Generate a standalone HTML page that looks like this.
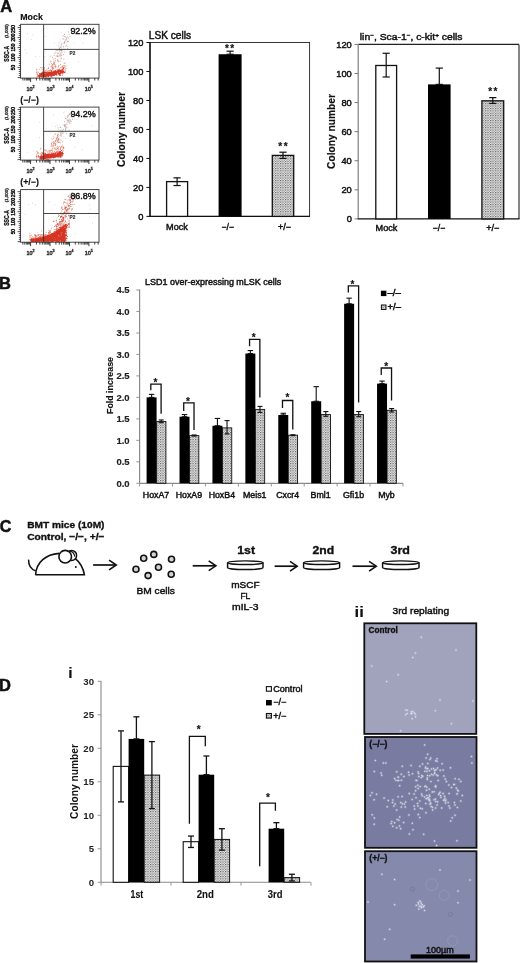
<!DOCTYPE html>
<html><head><meta charset="utf-8"><title>Figure</title>
<style>html,body{margin:0;padding:0;background:#fff;}svg{display:block;}text{font-family:"Liberation Sans", Arial, sans-serif;}</style>
</head><body>
<svg width="520" height="963" viewBox="0 0 520 963">
<rect width="520" height="963" fill="#fff"/>
<text x="0.30" y="11.60" font-size="16.5" font-weight="bold" text-anchor="start" fill="#111" stroke="#111" stroke-width="0.5">A</text>
<text x="-1.00" y="288.80" font-size="16.5" font-weight="bold" text-anchor="start" fill="#111" stroke="#111" stroke-width="0.5">B</text>
<text x="-0.20" y="532.00" font-size="16.0" font-weight="bold" text-anchor="start" fill="#111" stroke="#111" stroke-width="0.5">C</text>
<text x="-1.00" y="690.50" font-size="16.5" font-weight="bold" text-anchor="start" fill="#111" stroke="#111" stroke-width="0.5">D</text>
<text x="20.30" y="19.70" font-size="8.8" font-weight="bold" text-anchor="start" fill="#111" stroke="#111" stroke-width="0.15">Mock</text>
<path d="M45.4 36.4h0M68.4 32.7h0M60.3 46.4h0M26.7 53.0h0M25.2 49.6h0M27.5 33.5h0M52.5 68.0h0M31.3 39.7h0M66.8 73.7h0M63.2 47.9h0M91.3 31.5h0M83.0 42.9h0M32.8 34.8h0M44.3 67.5h0M35.3 56.5h0M67.6 46.7h0M61.2 32.2h0M26.8 38.9h0M70.5 49.3h0M44.7 56.7h0M54.5 43.3h0M78.5 62.0h0M39.8 56.2h0M59.6 70.3h0M74.0 42.8h0M53.2 63.1h0M61.6 49.1h0M61.5 47.2h0M63.6 43.8h0M58.7 46.1h0M58.1 45.7h0M64.5 42.1h0M66.0 42.8h0M61.4 44.6h0M59.2 50.9h0M63.0 36.7h0M60.2 54.0h0M49.0 62.9h0M60.5 44.7h0M55.3 51.9h0M56.0 52.9h0M54.1 63.9h0M65.0 41.0h0M64.0 43.1h0M67.4 36.3h0M62.1 42.9h0M55.0 62.5h0M57.7 58.8h0M59.5 49.0h0M60.1 41.5h0M69.0 38.9h0M57.1 52.7h0M59.8 39.9h0M52.9 64.3h0M54.6 60.0h0M57.0 50.4h0M53.9 67.3h0M59.3 48.0h0" stroke="#cbc6c6" stroke-width="0.9" stroke-linecap="round" stroke-opacity="0.9" fill="none"/>
<path d="M68.5 37.9h0M58.8 56.7h0M58.0 55.4h0M57.3 56.6h0M64.3 42.4h0M60.6 47.5h0M60.4 49.8h0M57.9 50.4h0M61.8 44.0h0M57.4 53.8h0M60.6 56.0h0M67.2 41.0h0M58.6 60.8h0M54.9 53.2h0M69.1 34.6h0M61.2 51.0h0M59.9 49.9h0M61.7 46.0h0M65.5 39.9h0M50.7 61.9h0M59.7 55.7h0M64.8 52.1h0M62.0 52.9h0M56.2 50.5h0M61.1 54.7h0M70.0 36.6h0M66.6 45.2h0M59.7 49.3h0M67.4 48.5h0M64.6 43.2h0M61.3 58.0h0M63.3 54.7h0M64.5 34.5h0M67.0 37.9h0M58.3 61.7h0M64.6 36.7h0M66.7 39.7h0M50.2 56.2h0M59.4 50.9h0M57.5 56.4h0M68.3 31.8h0M59.8 49.5h0M65.8 46.3h0M63.1 35.7h0M61.0 50.5h0M56.7 55.9h0M64.5 49.4h0M66.4 38.2h0M59.4 48.2h0M60.0 54.0h0M60.8 52.8h0M59.3 49.1h0M67.7 41.7h0M61.3 55.6h0M63.9 39.1h0M63.5 46.6h0M61.5 50.6h0M59.0 42.9h0M65.6 36.9h0M64.9 41.4h0M53.4 59.2h0M62.1 50.6h0M61.0 49.6h0M62.8 38.8h0M51.5 65.8h0M68.4 41.4h0" stroke="#a88070" stroke-width="0.95" stroke-linecap="round" stroke-opacity="0.8" fill="none"/>
<path d="M52.4 57.3h0M52.6 67.5h0M52.8 64.7h0M54.4 63.7h0M52.6 67.7h0M54.6 64.7h0M54.0 61.6h0M55.1 66.3h0M58.5 53.2h0M53.4 63.8h0M52.5 65.9h0M52.9 66.2h0M55.6 64.9h0M51.4 63.7h0M52.9 64.5h0M52.3 68.8h0M54.3 62.6h0M61.2 58.8h0M53.8 62.9h0M57.5 60.8h0M51.6 67.8h0M55.5 60.8h0M55.5 66.1h0M49.2 64.3h0M55.2 58.6h0M51.0 61.4h0M60.1 61.2h0M56.2 66.8h0M54.2 55.4h0M55.0 66.5h0M57.4 60.0h0M39.6 76.1h0M63.0 65.9h0M44.7 69.9h0M66.0 68.6h0M53.7 68.0h0M44.3 73.6h0M37.4 76.8h0M44.6 74.3h0M64.1 67.3h0M51.3 72.0h0M41.7 68.0h0M62.5 72.0h0M60.4 64.5h0M64.2 63.4h0M52.5 69.7h0M58.0 67.9h0M49.5 70.6h0M44.6 68.2h0M37.5 74.3h0M50.2 69.8h0M46.3 70.1h0M65.3 70.8h0M43.8 70.7h0M52.7 68.1h0M47.8 71.6h0M42.2 73.4h0M63.2 65.8h0M63.2 67.5h0M65.9 65.7h0M41.8 72.6h0M38.7 72.3h0M43.2 72.8h0M43.8 67.3h0M58.5 66.4h0M48.4 68.3h0M47.3 72.5h0M46.1 73.1h0M65.0 67.8h0M39.8 69.3h0M61.9 67.7h0M42.5 71.8h0M48.0 72.7h0M49.4 75.0h0M62.2 66.4h0M36.7 77.1h0M62.9 68.3h0M50.2 70.3h0M47.7 70.9h0M63.8 69.5h0M65.2 62.9h0M43.5 72.9h0M51.7 70.9h0M56.5 72.6h0M55.4 67.8h0M58.9 65.5h0M37.2 74.0h0M59.5 68.9h0M55.4 74.6h0M45.1 72.8h0M55.1 70.6h0M57.0 69.6h0M51.7 70.6h0M53.5 68.4h0M54.0 70.6h0M36.3 72.6h0M64.8 69.7h0M55.3 71.3h0M43.0 70.1h0M43.4 75.5h0M45.2 70.6h0M36.7 69.8h0M48.6 70.8h0M43.7 69.1h0M42.8 67.3h0M37.0 72.0h0M56.5 71.1h0M41.9 73.3h0M51.1 66.4h0M42.2 74.2h0M60.6 67.7h0M42.9 72.7h0M44.8 75.5h0M64.6 65.7h0M42.7 72.1h0M48.5 67.8h0M40.4 67.5h0M47.8 72.4h0M37.6 75.4h0M62.9 68.5h0M62.5 66.8h0M63.9 59.1h0M45.9 73.5h0M58.4 73.7h0M37.0 72.1h0M47.2 69.0h0M46.0 71.4h0M44.4 71.8h0M46.5 72.4h0M64.9 66.8h0M42.2 69.4h0M60.7 71.6h0M49.0 73.2h0M47.2 71.9h0M63.6 68.2h0M62.9 69.7h0M36.9 69.6h0M59.0 70.8h0M37.2 74.1h0M63.6 67.6h0" stroke="#e0604a" stroke-width="0.9" stroke-linecap="round" stroke-opacity="0.85" fill="none"/>
<path d="M45.4 72.2h0M54.3 75.3h0M46.9 74.8h0M58.9 71.4h0M63.2 71.6h0M52.8 72.7h0M48.7 75.7h0M51.8 73.4h0M59.0 69.9h0M57.8 71.8h0M46.1 76.6h0M45.4 75.2h0M51.8 77.0h0M61.7 71.7h0M41.9 76.6h0M56.2 73.2h0M48.5 73.1h0M58.4 70.8h0M42.4 74.7h0M52.3 75.2h0M44.0 76.3h0M43.6 74.2h0M51.9 76.1h0M55.7 72.9h0M51.5 71.5h0M62.5 71.9h0M54.3 72.7h0M60.1 72.4h0M58.8 72.1h0M53.5 72.8h0M48.6 75.1h0M44.4 74.1h0M44.8 75.2h0M56.2 73.9h0M44.4 73.7h0M41.2 76.6h0M52.5 73.2h0M42.8 74.3h0M46.1 74.4h0M51.2 70.6h0M48.5 76.4h0M45.8 75.0h0M49.9 72.9h0M60.6 72.2h0M38.3 75.9h0M62.7 72.5h0M47.8 74.5h0M44.3 74.9h0M40.3 76.2h0M63.3 72.1h0M63.5 71.2h0M41.0 75.3h0M60.5 70.3h0M43.1 74.6h0M50.0 72.1h0M43.7 76.6h0M51.6 74.2h0M44.9 72.4h0M38.8 75.5h0M40.2 75.5h0M52.9 73.0h0M45.7 75.8h0M49.2 73.1h0M51.1 74.2h0M51.4 76.0h0M58.0 72.7h0M51.2 74.3h0M50.5 74.8h0M52.9 74.0h0M40.9 73.7h0M52.7 74.1h0M48.9 74.1h0M61.7 71.7h0M60.2 75.5h0M53.0 72.7h0M43.6 72.5h0M43.5 74.8h0M60.0 73.3h0M62.2 72.6h0M51.6 74.1h0M56.4 72.3h0M59.4 73.3h0M53.9 75.4h0M51.4 72.5h0M42.7 75.5h0M49.0 73.3h0M63.1 70.9h0M57.6 72.9h0M59.0 73.0h0M43.9 72.5h0M53.3 72.5h0M39.5 76.4h0M53.5 74.0h0M61.8 72.4h0M55.4 73.0h0M48.5 75.2h0M43.7 74.5h0M43.5 74.4h0M42.9 75.1h0M43.7 76.4h0M60.9 70.6h0M46.8 74.9h0M52.4 75.1h0M51.3 73.0h0M45.4 74.8h0M51.8 74.3h0M40.5 75.8h0M53.2 73.2h0M43.2 74.5h0M55.2 72.3h0M46.7 75.2h0M61.5 69.8h0M39.9 74.3h0M50.6 72.6h0M45.1 75.7h0M57.1 71.0h0M44.8 74.7h0M58.1 72.3h0M55.6 72.8h0M61.6 71.9h0M44.8 72.0h0M56.9 75.1h0M54.4 71.4h0M62.0 72.2h0M57.0 71.6h0M56.5 72.3h0M44.1 74.9h0M61.9 72.0h0M42.3 75.1h0M42.8 75.6h0M55.5 71.5h0M58.4 73.1h0M48.7 72.2h0M62.8 72.6h0M62.2 71.4h0M44.3 75.5h0M60.6 70.3h0M59.2 71.5h0M42.6 76.8h0M43.8 76.6h0M39.5 77.3h0M56.4 73.7h0M61.5 71.7h0M55.3 73.3h0M50.0 72.9h0M56.1 72.7h0M61.8 73.0h0M43.8 75.3h0M58.1 72.5h0M49.8 74.3h0M42.9 75.6h0M59.7 75.3h0M46.4 76.8h0M52.3 74.8h0M41.3 73.9h0M58.2 71.6h0M47.7 76.2h0M41.3 75.7h0M50.3 75.9h0M43.9 75.7h0M57.9 70.6h0M47.5 75.3h0M59.4 70.4h0M42.0 76.5h0M54.1 74.3h0M61.2 72.7h0M46.1 72.5h0M43.2 76.3h0M46.7 74.7h0M58.9 74.3h0M58.8 71.0h0M43.7 74.9h0M44.0 75.5h0M49.3 72.3h0M50.9 72.8h0M41.9 74.9h0M58.2 71.7h0M53.3 72.1h0M44.4 72.6h0M57.9 70.1h0M55.4 71.9h0M46.6 74.4h0M49.7 72.1h0M54.7 74.5h0M49.8 73.2h0M56.3 72.5h0M55.5 71.7h0M51.5 73.7h0M53.3 75.4h0M62.1 71.6h0M52.1 73.1h0M50.8 72.1h0M50.4 75.7h0M43.9 74.1h0M59.7 74.8h0M48.5 74.8h0M49.8 74.2h0M49.3 73.1h0M45.8 77.0h0M61.9 71.6h0M58.6 72.9h0M42.5 73.3h0M53.8 73.7h0M45.4 74.8h0M55.6 70.8h0M50.4 75.6h0M42.5 74.5h0M60.2 73.3h0M44.9 75.5h0M39.0 75.3h0M44.8 76.5h0M48.9 72.9h0M49.5 73.1h0M41.2 73.4h0M59.6 74.1h0M55.0 73.1h0M62.5 70.8h0M41.9 76.5h0M58.1 73.1h0M61.7 71.0h0M60.2 70.6h0M56.8 71.3h0M60.4 73.9h0M52.2 72.3h0M60.5 71.7h0M45.5 76.2h0M40.0 76.2h0M50.3 74.1h0M62.1 71.8h0M49.6 73.4h0M59.4 73.2h0M64.0 72.1h0M56.0 73.2h0M56.7 72.3h0M62.6 71.5h0M62.7 72.0h0M53.8 75.5h0M47.2 74.9h0M58.5 73.8h0M48.1 73.7h0M46.7 73.6h0M51.5 75.3h0M62.6 69.7h0M47.0 75.7h0M52.7 71.8h0M39.7 73.5h0M53.3 73.8h0M53.4 71.5h0M60.9 70.8h0M54.3 71.6h0M56.3 74.7h0M50.5 73.4h0M44.9 75.6h0M61.4 70.8h0M59.8 70.5h0M45.2 76.4h0M45.9 75.7h0M63.3 72.0h0M54.1 72.6h0M63.3 71.3h0M50.2 75.2h0M44.4 75.4h0M39.0 75.7h0M64.5 72.6h0M43.5 75.6h0M45.0 74.3h0M40.4 74.0h0M60.3 71.5h0M54.5 71.8h0M62.3 75.0h0M57.1 72.7h0M55.4 72.5h0M46.7 74.0h0M60.2 72.1h0M47.4 74.0h0M56.8 74.6h0M47.4 73.2h0M48.4 75.9h0M62.8 69.9h0M48.3 75.7h0M56.9 71.7h0M55.6 72.6h0M53.7 74.6h0M60.3 73.4h0M55.2 71.6h0M46.7 74.8h0M48.3 73.2h0M62.6 72.2h0M60.0 70.8h0M46.7 72.9h0M56.7 72.1h0M39.8 75.4h0M44.0 72.3h0M43.9 74.1h0M50.8 74.9h0M58.0 71.1h0M41.7 73.7h0M43.3 74.1h0M60.2 71.9h0M53.9 74.1h0M43.3 74.3h0M52.3 74.5h0M45.4 76.3h0M49.2 75.4h0M59.3 73.7h0M47.5 74.6h0M41.4 75.7h0M50.6 73.6h0M56.7 74.2h0M59.0 69.3h0M45.9 75.1h0M43.7 75.6h0M53.5 72.3h0M62.9 71.3h0M53.6 73.8h0M62.9 73.2h0M56.2 72.3h0M48.4 74.7h0M63.7 71.3h0M62.8 70.1h0M40.5 74.0h0M55.4 73.0h0M42.7 72.5h0M55.6 74.6h0M58.5 73.1h0M46.1 75.9h0M43.2 76.2h0M57.2 72.8h0M45.7 75.6h0M46.0 73.9h0M61.8 72.8h0M42.8 74.5h0M54.0 73.6h0M58.5 72.7h0M42.6 76.0h0M56.4 72.6h0M60.7 73.3h0M47.8 75.8h0M47.3 74.3h0M65.1 72.1h0M55.9 74.4h0M46.1 75.7h0M50.9 73.7h0M62.7 72.2h0M62.6 72.3h0M46.5 74.8h0M58.9 72.9h0M39.5 74.8h0M42.0 76.8h0M44.1 75.0h0M43.7 73.3h0M44.2 75.5h0M53.6 73.4h0M43.2 74.1h0M58.8 71.9h0M40.6 74.7h0M58.4 73.2h0M48.3 72.3h0M53.1 73.8h0M51.4 73.1h0M44.0 74.2h0M42.3 76.9h0M38.3 76.3h0M52.8 75.0h0M59.9 71.3h0M55.8 74.4h0M41.9 73.4h0M50.4 73.9h0M54.5 73.6h0M44.7 75.7h0M45.3 74.7h0M41.2 75.0h0M38.6 75.4h0M52.0 73.1h0M60.7 71.6h0M41.1 75.9h0M46.6 75.7h0M41.1 74.5h0M41.5 74.8h0M44.0 72.6h0M47.4 75.8h0M50.6 75.9h0M58.1 73.3h0M45.3 76.5h0M60.4 70.8h0M61.1 72.4h0M63.5 71.0h0M49.0 73.4h0M53.0 74.1h0M52.1 73.8h0M63.6 68.4h0M55.4 70.5h0M62.2 72.1h0M45.4 74.1h0M53.5 72.6h0M44.4 75.0h0M62.6 72.7h0M56.0 74.1h0M62.3 71.6h0M50.2 73.9h0M42.6 76.4h0M49.0 75.2h0M39.7 75.4h0" stroke="#d42a18" stroke-width="1.15" stroke-linecap="round" stroke-opacity="0.95" fill="none"/>
<rect x="20.60" y="24.30" width="78.40" height="53.80" fill="none" stroke="#333" stroke-width="0.9"/>
<line x1="43.60" y1="24.30" x2="43.60" y2="78.10" stroke="#333" stroke-width="0.9"/>
<line x1="43.60" y1="49.40" x2="99.00" y2="49.40" stroke="#333" stroke-width="0.9"/>
<text x="95.80" y="33.90" font-size="9.0" font-weight="normal" text-anchor="end" fill="#111" stroke="#111" stroke-width="0.4" textLength="25.40" lengthAdjust="spacingAndGlyphs">92.2%</text>
<text x="69.60" y="54.80" font-size="6.0" font-weight="bold" text-anchor="start" fill="#333" stroke="#333" stroke-width="0.15" textLength="5.80" lengthAdjust="spacingAndGlyphs">P2</text>
<line x1="17.60" y1="77.60" x2="20.60" y2="77.60" stroke="#111" stroke-width="0.75"/>
<line x1="18.80" y1="75.60" x2="20.60" y2="75.60" stroke="#111" stroke-width="0.75"/>
<line x1="18.80" y1="73.60" x2="20.60" y2="73.60" stroke="#111" stroke-width="0.75"/>
<line x1="18.80" y1="71.60" x2="20.60" y2="71.60" stroke="#111" stroke-width="0.75"/>
<line x1="18.80" y1="69.60" x2="20.60" y2="69.60" stroke="#111" stroke-width="0.75"/>
<line x1="17.60" y1="67.60" x2="20.60" y2="67.60" stroke="#111" stroke-width="0.75"/>
<line x1="18.80" y1="65.60" x2="20.60" y2="65.60" stroke="#111" stroke-width="0.75"/>
<line x1="18.80" y1="63.60" x2="20.60" y2="63.60" stroke="#111" stroke-width="0.75"/>
<line x1="18.80" y1="61.60" x2="20.60" y2="61.60" stroke="#111" stroke-width="0.75"/>
<line x1="18.80" y1="59.60" x2="20.60" y2="59.60" stroke="#111" stroke-width="0.75"/>
<line x1="17.60" y1="57.60" x2="20.60" y2="57.60" stroke="#111" stroke-width="0.75"/>
<line x1="18.80" y1="55.60" x2="20.60" y2="55.60" stroke="#111" stroke-width="0.75"/>
<line x1="18.80" y1="53.60" x2="20.60" y2="53.60" stroke="#111" stroke-width="0.75"/>
<line x1="18.80" y1="51.60" x2="20.60" y2="51.60" stroke="#111" stroke-width="0.75"/>
<line x1="18.80" y1="49.60" x2="20.60" y2="49.60" stroke="#111" stroke-width="0.75"/>
<line x1="17.60" y1="47.60" x2="20.60" y2="47.60" stroke="#111" stroke-width="0.75"/>
<line x1="18.80" y1="45.60" x2="20.60" y2="45.60" stroke="#111" stroke-width="0.75"/>
<line x1="18.80" y1="43.60" x2="20.60" y2="43.60" stroke="#111" stroke-width="0.75"/>
<line x1="18.80" y1="41.60" x2="20.60" y2="41.60" stroke="#111" stroke-width="0.75"/>
<line x1="18.80" y1="39.60" x2="20.60" y2="39.60" stroke="#111" stroke-width="0.75"/>
<line x1="17.60" y1="37.60" x2="20.60" y2="37.60" stroke="#111" stroke-width="0.75"/>
<line x1="18.80" y1="35.60" x2="20.60" y2="35.60" stroke="#111" stroke-width="0.75"/>
<line x1="18.80" y1="33.60" x2="20.60" y2="33.60" stroke="#111" stroke-width="0.75"/>
<line x1="18.80" y1="31.60" x2="20.60" y2="31.60" stroke="#111" stroke-width="0.75"/>
<line x1="18.80" y1="29.60" x2="20.60" y2="29.60" stroke="#111" stroke-width="0.75"/>
<line x1="17.60" y1="27.60" x2="20.60" y2="27.60" stroke="#111" stroke-width="0.75"/>
<line x1="18.80" y1="25.60" x2="20.60" y2="25.60" stroke="#111" stroke-width="0.75"/>
<text x="15.50" y="67.60" font-size="4.8" font-weight="normal" text-anchor="middle" fill="#111" stroke="#111" stroke-width="0.4" transform="rotate(-90 15.50 67.60)">50</text>
<text x="15.50" y="57.60" font-size="4.8" font-weight="normal" text-anchor="middle" fill="#111" stroke="#111" stroke-width="0.4" transform="rotate(-90 15.50 57.60)">100</text>
<text x="15.50" y="47.60" font-size="4.8" font-weight="normal" text-anchor="middle" fill="#111" stroke="#111" stroke-width="0.4" transform="rotate(-90 15.50 47.60)">150</text>
<text x="15.50" y="37.60" font-size="4.8" font-weight="normal" text-anchor="middle" fill="#111" stroke="#111" stroke-width="0.4" transform="rotate(-90 15.50 37.60)">200</text>
<text x="15.50" y="29.10" font-size="4.8" font-weight="normal" text-anchor="middle" fill="#111" stroke="#111" stroke-width="0.4" transform="rotate(-90 15.50 29.10)">250</text>
<text x="8.70" y="61.70" font-size="6.6" font-weight="bold" text-anchor="start" fill="#111" stroke="#111" stroke-width="0.3" textLength="15.80" lengthAdjust="spacingAndGlyphs" transform="rotate(-90 8.70 61.70)">SSC-A</text>
<text x="7.90" y="38.10" font-size="4.2" font-weight="normal" text-anchor="start" fill="#444" stroke="#444" stroke-width="0.45" textLength="13.80" lengthAdjust="spacingAndGlyphs" transform="rotate(-90 7.90 38.10)">(1,000)</text>
<line x1="22.87" y1="78.10" x2="22.87" y2="80.50" stroke="#111" stroke-width="0.8"/>
<line x1="24.75" y1="78.10" x2="24.75" y2="80.50" stroke="#111" stroke-width="0.8"/>
<line x1="26.29" y1="78.10" x2="26.29" y2="80.50" stroke="#111" stroke-width="0.8"/>
<line x1="27.59" y1="78.10" x2="27.59" y2="80.50" stroke="#111" stroke-width="0.8"/>
<line x1="28.72" y1="78.10" x2="28.72" y2="80.50" stroke="#111" stroke-width="0.8"/>
<line x1="29.71" y1="78.10" x2="29.71" y2="80.50" stroke="#111" stroke-width="0.8"/>
<line x1="30.60" y1="78.10" x2="30.60" y2="82.10" stroke="#111" stroke-width="0.8"/>
<line x1="36.45" y1="78.10" x2="36.45" y2="80.50" stroke="#111" stroke-width="0.8"/>
<line x1="39.87" y1="78.10" x2="39.87" y2="80.50" stroke="#111" stroke-width="0.8"/>
<line x1="42.30" y1="78.10" x2="42.30" y2="80.50" stroke="#111" stroke-width="0.8"/>
<line x1="44.18" y1="78.10" x2="44.18" y2="80.50" stroke="#111" stroke-width="0.8"/>
<line x1="45.72" y1="78.10" x2="45.72" y2="80.50" stroke="#111" stroke-width="0.8"/>
<line x1="47.02" y1="78.10" x2="47.02" y2="80.50" stroke="#111" stroke-width="0.8"/>
<line x1="48.15" y1="78.10" x2="48.15" y2="80.50" stroke="#111" stroke-width="0.8"/>
<line x1="49.14" y1="78.10" x2="49.14" y2="80.50" stroke="#111" stroke-width="0.8"/>
<line x1="50.03" y1="78.10" x2="50.03" y2="82.10" stroke="#111" stroke-width="0.8"/>
<line x1="55.88" y1="78.10" x2="55.88" y2="80.50" stroke="#111" stroke-width="0.8"/>
<line x1="59.31" y1="78.10" x2="59.31" y2="80.50" stroke="#111" stroke-width="0.8"/>
<line x1="61.73" y1="78.10" x2="61.73" y2="80.50" stroke="#111" stroke-width="0.8"/>
<line x1="63.62" y1="78.10" x2="63.62" y2="80.50" stroke="#111" stroke-width="0.8"/>
<line x1="65.16" y1="78.10" x2="65.16" y2="80.50" stroke="#111" stroke-width="0.8"/>
<line x1="66.46" y1="78.10" x2="66.46" y2="80.50" stroke="#111" stroke-width="0.8"/>
<line x1="67.58" y1="78.10" x2="67.58" y2="80.50" stroke="#111" stroke-width="0.8"/>
<line x1="68.58" y1="78.10" x2="68.58" y2="80.50" stroke="#111" stroke-width="0.8"/>
<line x1="69.47" y1="78.10" x2="69.47" y2="82.10" stroke="#111" stroke-width="0.8"/>
<line x1="75.32" y1="78.10" x2="75.32" y2="80.50" stroke="#111" stroke-width="0.8"/>
<line x1="78.74" y1="78.10" x2="78.74" y2="80.50" stroke="#111" stroke-width="0.8"/>
<line x1="81.17" y1="78.10" x2="81.17" y2="80.50" stroke="#111" stroke-width="0.8"/>
<line x1="83.05" y1="78.10" x2="83.05" y2="80.50" stroke="#111" stroke-width="0.8"/>
<line x1="84.59" y1="78.10" x2="84.59" y2="80.50" stroke="#111" stroke-width="0.8"/>
<line x1="85.89" y1="78.10" x2="85.89" y2="80.50" stroke="#111" stroke-width="0.8"/>
<line x1="87.02" y1="78.10" x2="87.02" y2="80.50" stroke="#111" stroke-width="0.8"/>
<line x1="88.01" y1="78.10" x2="88.01" y2="80.50" stroke="#111" stroke-width="0.8"/>
<line x1="88.90" y1="78.10" x2="88.90" y2="82.10" stroke="#111" stroke-width="0.8"/>
<line x1="94.75" y1="78.10" x2="94.75" y2="80.50" stroke="#111" stroke-width="0.8"/>
<line x1="98.17" y1="78.10" x2="98.17" y2="80.50" stroke="#111" stroke-width="0.8"/>
<text x="29.40" y="91.30" font-size="5.4" font-weight="normal" text-anchor="middle" fill="#333" stroke="#333" stroke-width="0.45">10</text>
<text x="32.40" y="88.10" font-size="3.6" font-weight="normal" text-anchor="start" fill="#333" stroke="#333" stroke-width="0.45">2</text>
<text x="49.60" y="91.30" font-size="5.4" font-weight="normal" text-anchor="middle" fill="#333" stroke="#333" stroke-width="0.45">10</text>
<text x="52.60" y="88.10" font-size="3.6" font-weight="normal" text-anchor="start" fill="#333" stroke="#333" stroke-width="0.45">3</text>
<text x="68.60" y="91.30" font-size="5.4" font-weight="normal" text-anchor="middle" fill="#333" stroke="#333" stroke-width="0.45">10</text>
<text x="71.60" y="88.10" font-size="3.6" font-weight="normal" text-anchor="start" fill="#333" stroke="#333" stroke-width="0.45">4</text>
<text x="87.70" y="91.30" font-size="5.4" font-weight="normal" text-anchor="middle" fill="#333" stroke="#333" stroke-width="0.45">10</text>
<text x="90.70" y="88.10" font-size="3.6" font-weight="normal" text-anchor="start" fill="#333" stroke="#333" stroke-width="0.45">5</text>
<text x="20.30" y="102.50" font-size="8.8" font-weight="bold" text-anchor="start" fill="#111" stroke="#111" stroke-width="0.15">(&#8722;/&#8722;)</text>
<path d="M65.5 138.3h0M68.4 121.4h0M72.6 133.3h0M61.2 140.3h0M55.6 126.4h0M39.7 122.3h0M58.7 129.7h0M63.8 112.6h0M47.4 151.7h0M39.4 137.7h0M57.2 125.2h0M92.1 125.7h0M77.0 119.4h0M27.3 152.2h0M53.6 115.0h0M49.9 132.3h0M74.4 117.1h0M38.5 156.2h0M74.6 119.2h0M46.3 128.3h0M70.1 140.4h0M82.4 149.9h0M59.1 146.1h0M74.9 147.0h0M56.1 148.2h0M65.5 130.8h0M60.3 132.3h0M68.7 115.5h0M66.8 116.3h0M62.5 133.0h0M65.6 131.3h0M56.2 140.7h0M63.1 132.6h0M55.9 147.2h0M61.6 132.1h0M60.9 140.3h0M71.1 117.7h0M61.5 130.1h0M56.4 139.2h0M54.5 143.0h0M69.4 114.0h0M60.6 135.4h0M63.5 132.0h0M70.2 116.4h0M69.1 113.8h0M63.9 136.6h0M51.3 138.9h0M65.4 127.4h0M68.0 127.3h0M68.1 130.8h0M54.9 137.5h0M59.3 141.4h0M57.2 148.5h0M63.0 133.4h0M66.2 124.3h0M62.9 125.1h0M64.6 126.5h0M65.9 129.0h0M69.1 119.9h0M69.8 123.0h0M66.2 123.6h0M58.6 132.3h0M72.1 115.3h0M52.2 146.7h0M63.2 129.6h0" stroke="#cbc6c6" stroke-width="0.9" stroke-linecap="round" stroke-opacity="0.9" fill="none"/>
<path d="M67.1 124.2h0M69.0 114.6h0M67.5 117.6h0M65.2 126.9h0M57.5 135.3h0M70.0 114.3h0M51.1 146.0h0M64.0 124.9h0M66.1 126.4h0M69.2 122.2h0M67.2 120.4h0M68.8 120.5h0M60.1 127.0h0M66.9 127.8h0M65.7 118.5h0M65.6 125.0h0M63.7 129.3h0M62.0 131.4h0M55.5 143.3h0M65.3 131.4h0M67.9 116.6h0M57.8 140.0h0M68.0 122.2h0M69.1 119.1h0M62.2 133.7h0M64.6 121.7h0M58.4 139.5h0M70.4 120.2h0M60.4 134.1h0M64.4 125.2h0M69.8 114.4h0M58.0 134.2h0M55.2 141.3h0M70.0 123.4h0M60.7 127.5h0M55.0 134.3h0M53.5 144.8h0M59.9 135.8h0M69.1 130.0h0M70.0 121.2h0M66.5 133.6h0M61.5 146.5h0M64.9 125.9h0M57.4 141.1h0M56.7 139.9h0M61.6 135.9h0M65.4 128.7h0M61.8 134.0h0M67.2 119.7h0M55.6 145.0h0M56.0 144.3h0M52.3 139.3h0M74.7 114.4h0M57.1 142.5h0M58.0 127.9h0M60.2 130.4h0M58.3 141.1h0M64.8 124.9h0M65.8 129.9h0M58.7 142.5h0M71.3 121.4h0M67.9 121.0h0M62.6 131.0h0M67.8 115.6h0M65.8 118.0h0M73.1 116.1h0M61.0 132.6h0M72.4 119.3h0" stroke="#a88070" stroke-width="0.95" stroke-linecap="round" stroke-opacity="0.8" fill="none"/>
<path d="M53.4 145.5h0M52.9 142.4h0M53.8 138.2h0M60.0 139.7h0M51.6 143.8h0M54.3 148.1h0M58.1 138.6h0M57.1 147.2h0M55.1 148.7h0M53.4 143.4h0M53.9 147.9h0M53.3 136.1h0M55.2 134.0h0M58.1 139.1h0M53.7 143.1h0M57.3 141.1h0M53.1 146.3h0M57.8 137.5h0M57.2 136.9h0M58.0 136.4h0M53.9 141.5h0M55.1 145.3h0M55.6 145.0h0M60.3 142.8h0M62.6 141.9h0M58.7 140.0h0M59.0 138.3h0M55.4 140.4h0M56.3 138.5h0M52.1 145.2h0M58.2 134.9h0M59.1 142.5h0M59.9 146.6h0M56.4 138.7h0M55.7 141.0h0M57.6 135.3h0M51.8 142.7h0M58.3 147.6h0M54.7 143.0h0M55.2 143.9h0M57.0 137.7h0M51.6 144.3h0M47.0 155.4h0M38.1 152.7h0M45.2 154.5h0M52.5 156.8h0M37.2 156.3h0M49.1 154.6h0M52.2 150.2h0M36.2 156.9h0M52.2 151.7h0M48.9 153.1h0M63.6 150.7h0M54.8 151.7h0M43.6 153.4h0M43.3 156.7h0M51.9 146.1h0M63.8 148.3h0M37.0 151.5h0M60.4 148.6h0M57.7 148.4h0M46.2 150.7h0M43.9 155.1h0M62.3 145.0h0M55.1 149.9h0M56.7 154.8h0M50.2 150.9h0M51.4 150.4h0M47.4 155.0h0M45.0 154.3h0M63.7 147.1h0M42.8 154.3h0M42.6 153.3h0M36.2 156.5h0M60.4 147.6h0M51.9 152.8h0M44.5 154.1h0M44.4 154.4h0M44.6 153.2h0M62.2 146.7h0M45.5 156.2h0M38.2 153.5h0M41.0 148.2h0M46.0 149.9h0M57.7 146.4h0M37.9 157.2h0M49.6 154.1h0M43.2 152.8h0M36.6 156.3h0M55.7 152.8h0M42.1 152.9h0M52.9 152.7h0M60.2 149.2h0M56.5 149.7h0M63.0 148.8h0M58.7 149.9h0M60.5 149.4h0M41.3 155.4h0M51.0 154.6h0M61.8 147.4h0M41.9 152.3h0M54.2 155.0h0M47.3 152.1h0M37.6 153.2h0M47.6 156.2h0M45.4 154.4h0M49.8 150.9h0M49.0 151.6h0M36.4 158.2h0M63.7 148.0h0M37.6 152.2h0M45.2 150.9h0M38.6 155.7h0M57.5 151.9h0M38.5 155.9h0M51.1 149.9h0M52.5 148.6h0M52.8 150.6h0M45.3 153.4h0M55.9 149.3h0M57.4 151.1h0M57.6 148.7h0M63.4 147.6h0M50.7 152.8h0M62.3 149.9h0M49.3 152.8h0M54.4 151.8h0M63.7 147.2h0M42.4 154.1h0M36.8 154.3h0M39.8 157.3h0M51.5 153.1h0M41.1 156.5h0M40.2 153.7h0M41.0 154.0h0M40.5 149.1h0M36.8 155.6h0M63.5 147.7h0M50.0 151.0h0M58.4 148.9h0M48.9 150.3h0M56.5 154.2h0M47.3 154.4h0M60.2 153.1h0M47.5 154.1h0M61.7 153.0h0M42.3 153.0h0M43.1 153.8h0M42.5 156.6h0M41.7 154.4h0M44.4 150.2h0" stroke="#e0604a" stroke-width="0.9" stroke-linecap="round" stroke-opacity="0.85" fill="none"/>
<path d="M62.1 155.2h0M44.5 155.4h0M45.9 154.7h0M45.8 158.4h0M60.2 155.6h0M52.1 156.2h0M59.8 156.6h0M48.2 154.0h0M45.7 154.0h0M46.9 157.0h0M63.2 153.5h0M43.3 157.1h0M43.6 157.1h0M48.6 155.5h0M59.6 154.0h0M45.5 155.3h0M40.3 158.3h0M49.6 156.4h0M61.1 156.2h0M42.2 158.0h0M50.0 158.0h0M43.2 156.2h0M41.9 159.2h0M59.9 154.8h0M62.2 152.1h0M46.3 157.9h0M42.4 158.3h0M48.3 156.2h0M39.8 156.7h0M50.8 155.4h0M62.5 152.0h0M48.4 157.8h0M60.8 154.7h0M38.7 156.8h0M45.0 156.5h0M45.4 157.8h0M58.9 151.5h0M40.8 157.1h0M53.6 155.1h0M62.7 153.4h0M57.7 154.4h0M62.0 155.4h0M55.4 156.4h0M47.6 156.4h0M54.4 156.9h0M52.1 157.5h0M46.6 156.2h0M55.0 154.9h0M50.7 155.8h0M57.9 155.3h0M57.0 155.1h0M59.5 152.5h0M58.3 154.9h0M46.1 157.8h0M56.8 154.5h0M54.4 155.7h0M57.6 153.8h0M54.3 156.4h0M44.7 158.2h0M48.9 156.5h0M53.0 155.8h0M55.7 156.1h0M45.5 156.7h0M54.3 154.6h0M49.6 154.5h0M49.0 156.8h0M47.9 155.6h0M48.1 154.7h0M47.0 158.0h0M61.1 157.0h0M54.8 156.5h0M48.5 157.5h0M47.4 156.5h0M59.8 153.7h0M52.2 156.1h0M57.7 155.3h0M58.7 154.8h0M51.8 154.1h0M56.1 155.1h0M53.7 154.7h0M57.4 155.2h0M41.8 157.4h0M42.0 156.3h0M40.7 156.4h0M51.8 156.5h0M46.7 154.6h0M58.3 153.9h0M47.3 156.8h0M61.7 154.6h0M51.4 155.8h0M58.0 153.6h0M45.4 157.7h0M47.3 157.1h0M51.9 157.5h0M45.3 156.4h0M48.3 156.1h0M46.2 156.0h0M56.0 153.2h0M50.8 155.5h0M60.1 154.5h0M55.6 155.8h0M41.2 157.7h0M59.0 153.4h0M50.4 154.4h0M46.9 159.3h0M43.7 157.2h0M43.4 158.9h0M59.9 155.0h0M46.7 155.8h0M44.6 158.1h0M41.3 157.2h0M44.5 156.8h0M53.3 157.8h0M47.4 156.1h0M58.4 154.2h0M44.6 157.2h0M50.1 154.8h0M56.1 156.5h0M45.0 155.3h0M60.0 153.8h0M47.7 155.2h0M61.2 154.6h0M58.2 153.5h0M42.4 158.7h0M60.0 153.2h0M61.4 154.0h0M60.2 156.5h0M55.1 155.4h0M49.9 158.4h0M44.1 156.4h0M41.2 157.9h0M52.4 154.0h0M51.1 156.3h0M41.9 157.4h0M52.2 156.7h0M54.8 155.8h0M60.0 156.2h0M58.8 154.4h0M42.4 157.4h0M50.5 155.9h0M50.8 157.4h0M50.8 156.7h0M49.0 157.1h0M45.9 156.0h0M61.5 154.0h0M51.0 154.3h0M55.3 157.2h0M43.4 158.0h0M48.0 156.5h0M60.5 154.8h0M44.0 156.2h0M56.2 155.2h0M53.4 155.4h0M53.1 153.3h0M47.9 155.3h0M62.2 153.7h0M48.8 156.8h0M45.3 155.3h0M43.1 158.3h0M44.5 158.6h0M62.9 153.3h0M49.2 156.4h0M60.0 152.2h0M43.3 155.9h0M58.4 155.5h0M54.8 154.4h0M59.8 153.0h0M57.1 152.6h0M51.6 156.8h0M57.7 153.7h0M59.2 153.5h0M43.9 157.1h0M45.9 156.3h0M43.8 157.8h0M51.9 154.7h0M54.5 156.6h0M56.7 151.9h0M57.9 154.8h0M54.7 154.1h0M53.8 153.4h0M40.0 158.4h0M42.8 156.5h0M52.6 155.9h0M53.5 156.0h0M45.7 155.8h0M54.7 154.6h0M56.5 155.4h0M48.2 159.3h0M54.1 154.5h0M51.9 155.4h0M62.3 155.8h0M43.5 157.6h0M44.7 156.9h0M57.8 155.7h0M40.7 157.4h0M50.0 158.3h0M59.5 153.7h0M51.8 156.9h0M47.4 155.2h0M47.1 156.6h0M59.2 154.2h0M62.9 154.2h0M54.2 154.8h0M57.5 153.2h0M57.2 154.9h0M44.6 156.6h0M42.3 157.0h0M53.9 157.5h0M45.6 156.8h0M60.7 152.0h0M53.4 157.7h0M55.4 154.0h0M42.2 156.8h0M57.2 155.2h0M51.7 155.3h0M56.6 155.7h0M61.8 153.4h0M47.3 156.5h0M46.7 157.2h0M45.1 158.1h0M61.1 154.6h0M58.5 155.1h0M54.1 154.2h0M43.4 156.2h0M51.7 153.9h0M51.4 157.7h0M45.7 156.8h0M57.5 154.1h0M60.6 154.8h0M40.3 157.7h0M53.7 156.6h0M60.5 152.4h0M55.5 156.9h0M55.9 156.0h0M57.4 155.2h0M58.2 154.1h0M55.1 154.7h0M48.2 157.1h0M51.8 154.3h0M51.9 156.8h0M46.8 155.0h0M59.1 155.8h0M54.9 155.1h0M59.7 151.7h0M54.6 154.7h0M55.2 153.3h0M47.0 157.6h0M58.1 155.3h0M45.9 158.2h0M61.7 152.5h0M56.8 155.8h0M48.3 156.6h0M43.0 158.2h0M48.4 155.7h0M41.1 157.6h0M44.4 156.6h0M46.8 156.5h0M57.8 156.9h0M57.6 154.5h0M58.1 154.7h0M50.4 156.8h0M55.2 154.4h0M50.8 155.5h0M60.5 153.8h0M60.0 157.3h0M41.1 158.2h0M49.5 154.5h0M49.7 157.0h0M48.8 157.3h0M55.3 154.9h0M44.2 156.7h0M44.7 156.6h0M61.4 150.5h0M60.0 152.0h0M41.4 158.3h0M58.8 152.5h0M45.5 157.8h0M54.6 155.1h0M41.3 159.2h0M60.1 152.6h0M42.6 158.3h0M54.7 155.9h0M60.3 152.5h0M58.3 154.8h0M51.8 155.7h0M47.3 157.2h0M57.7 153.3h0M49.5 155.0h0M58.1 153.8h0M49.8 156.4h0M57.1 154.7h0M59.3 154.1h0M45.9 155.2h0M50.3 155.5h0M46.0 156.4h0M41.9 157.6h0M43.4 158.1h0M53.8 154.0h0M41.4 157.7h0M49.4 157.5h0M55.8 156.8h0M54.8 155.3h0M59.8 153.8h0M45.8 157.0h0M49.0 154.1h0M53.9 155.0h0M43.5 157.3h0M41.4 158.4h0M60.7 155.8h0M59.3 151.9h0M45.9 157.3h0M58.4 156.5h0M56.2 157.0h0M43.2 157.6h0M58.7 152.4h0M40.7 156.9h0M57.0 154.6h0M53.2 155.0h0M40.6 158.0h0M50.1 156.3h0M41.2 156.0h0M50.9 157.3h0M44.2 157.7h0M60.8 153.5h0M41.9 155.5h0M59.3 154.9h0M46.7 156.2h0M54.7 154.9h0M40.5 158.6h0M54.4 154.3h0M49.1 157.4h0M55.4 154.0h0M58.8 153.0h0M57.0 155.0h0M57.2 155.7h0M44.8 156.9h0M55.5 156.1h0M47.5 157.3h0M50.9 155.8h0M60.6 151.4h0M61.9 152.5h0M45.4 157.4h0M46.4 155.1h0M47.4 154.5h0M59.8 152.5h0M42.6 156.8h0M53.1 156.7h0M61.8 155.0h0M52.5 154.9h0M50.0 155.2h0M61.8 154.1h0M46.4 156.9h0M45.2 153.4h0M42.8 158.5h0M55.2 152.9h0M45.5 157.5h0M55.4 156.0h0M60.6 152.5h0M53.4 154.3h0M47.0 157.1h0M40.0 158.9h0M40.4 158.5h0M54.9 157.3h0M44.5 158.1h0M48.7 155.2h0M57.6 156.2h0M47.6 156.4h0M58.5 156.9h0M57.4 153.7h0M42.9 156.3h0M54.7 155.8h0M42.9 157.6h0M53.8 155.0h0M43.0 158.0h0M43.6 157.3h0M56.8 156.5h0M44.9 158.5h0M45.3 158.7h0M45.1 158.1h0M47.7 158.1h0M50.6 155.8h0M54.9 154.3h0M40.3 158.6h0M50.0 155.6h0M42.1 158.0h0M44.7 157.6h0M60.3 153.8h0M44.9 155.7h0M60.7 153.2h0M43.3 157.1h0M45.2 157.8h0M59.1 154.7h0M41.0 158.5h0M44.1 156.4h0M43.5 157.5h0M45.1 157.4h0M52.2 155.9h0M55.7 154.7h0M50.1 155.0h0M43.8 154.6h0" stroke="#d42a18" stroke-width="1.15" stroke-linecap="round" stroke-opacity="0.95" fill="none"/>
<rect x="20.60" y="107.10" width="78.40" height="53.00" fill="none" stroke="#333" stroke-width="0.9"/>
<line x1="43.60" y1="107.10" x2="43.60" y2="160.10" stroke="#333" stroke-width="0.9"/>
<line x1="43.60" y1="131.30" x2="99.00" y2="131.30" stroke="#333" stroke-width="0.9"/>
<text x="95.80" y="116.70" font-size="9.0" font-weight="normal" text-anchor="end" fill="#111" stroke="#111" stroke-width="0.4" textLength="25.40" lengthAdjust="spacingAndGlyphs">94.2%</text>
<text x="69.60" y="136.70" font-size="6.0" font-weight="bold" text-anchor="start" fill="#333" stroke="#333" stroke-width="0.15" textLength="5.80" lengthAdjust="spacingAndGlyphs">P2</text>
<line x1="17.60" y1="159.60" x2="20.60" y2="159.60" stroke="#111" stroke-width="0.75"/>
<line x1="18.80" y1="157.60" x2="20.60" y2="157.60" stroke="#111" stroke-width="0.75"/>
<line x1="18.80" y1="155.60" x2="20.60" y2="155.60" stroke="#111" stroke-width="0.75"/>
<line x1="18.80" y1="153.60" x2="20.60" y2="153.60" stroke="#111" stroke-width="0.75"/>
<line x1="18.80" y1="151.60" x2="20.60" y2="151.60" stroke="#111" stroke-width="0.75"/>
<line x1="17.60" y1="149.60" x2="20.60" y2="149.60" stroke="#111" stroke-width="0.75"/>
<line x1="18.80" y1="147.60" x2="20.60" y2="147.60" stroke="#111" stroke-width="0.75"/>
<line x1="18.80" y1="145.60" x2="20.60" y2="145.60" stroke="#111" stroke-width="0.75"/>
<line x1="18.80" y1="143.60" x2="20.60" y2="143.60" stroke="#111" stroke-width="0.75"/>
<line x1="18.80" y1="141.60" x2="20.60" y2="141.60" stroke="#111" stroke-width="0.75"/>
<line x1="17.60" y1="139.60" x2="20.60" y2="139.60" stroke="#111" stroke-width="0.75"/>
<line x1="18.80" y1="137.60" x2="20.60" y2="137.60" stroke="#111" stroke-width="0.75"/>
<line x1="18.80" y1="135.60" x2="20.60" y2="135.60" stroke="#111" stroke-width="0.75"/>
<line x1="18.80" y1="133.60" x2="20.60" y2="133.60" stroke="#111" stroke-width="0.75"/>
<line x1="18.80" y1="131.60" x2="20.60" y2="131.60" stroke="#111" stroke-width="0.75"/>
<line x1="17.60" y1="129.60" x2="20.60" y2="129.60" stroke="#111" stroke-width="0.75"/>
<line x1="18.80" y1="127.60" x2="20.60" y2="127.60" stroke="#111" stroke-width="0.75"/>
<line x1="18.80" y1="125.60" x2="20.60" y2="125.60" stroke="#111" stroke-width="0.75"/>
<line x1="18.80" y1="123.60" x2="20.60" y2="123.60" stroke="#111" stroke-width="0.75"/>
<line x1="18.80" y1="121.60" x2="20.60" y2="121.60" stroke="#111" stroke-width="0.75"/>
<line x1="17.60" y1="119.60" x2="20.60" y2="119.60" stroke="#111" stroke-width="0.75"/>
<line x1="18.80" y1="117.60" x2="20.60" y2="117.60" stroke="#111" stroke-width="0.75"/>
<line x1="18.80" y1="115.60" x2="20.60" y2="115.60" stroke="#111" stroke-width="0.75"/>
<line x1="18.80" y1="113.60" x2="20.60" y2="113.60" stroke="#111" stroke-width="0.75"/>
<line x1="18.80" y1="111.60" x2="20.60" y2="111.60" stroke="#111" stroke-width="0.75"/>
<line x1="17.60" y1="109.60" x2="20.60" y2="109.60" stroke="#111" stroke-width="0.75"/>
<line x1="18.80" y1="107.60" x2="20.60" y2="107.60" stroke="#111" stroke-width="0.75"/>
<text x="15.50" y="149.60" font-size="4.8" font-weight="normal" text-anchor="middle" fill="#111" stroke="#111" stroke-width="0.4" transform="rotate(-90 15.50 149.60)">50</text>
<text x="15.50" y="139.60" font-size="4.8" font-weight="normal" text-anchor="middle" fill="#111" stroke="#111" stroke-width="0.4" transform="rotate(-90 15.50 139.60)">100</text>
<text x="15.50" y="129.60" font-size="4.8" font-weight="normal" text-anchor="middle" fill="#111" stroke="#111" stroke-width="0.4" transform="rotate(-90 15.50 129.60)">150</text>
<text x="15.50" y="119.60" font-size="4.8" font-weight="normal" text-anchor="middle" fill="#111" stroke="#111" stroke-width="0.4" transform="rotate(-90 15.50 119.60)">200</text>
<text x="15.50" y="111.10" font-size="4.8" font-weight="normal" text-anchor="middle" fill="#111" stroke="#111" stroke-width="0.4" transform="rotate(-90 15.50 111.10)">250</text>
<text x="8.70" y="143.70" font-size="6.6" font-weight="bold" text-anchor="start" fill="#111" stroke="#111" stroke-width="0.3" textLength="15.80" lengthAdjust="spacingAndGlyphs" transform="rotate(-90 8.70 143.70)">SSC-A</text>
<text x="7.90" y="120.10" font-size="4.2" font-weight="normal" text-anchor="start" fill="#444" stroke="#444" stroke-width="0.45" textLength="13.80" lengthAdjust="spacingAndGlyphs" transform="rotate(-90 7.90 120.10)">(1,000)</text>
<line x1="22.87" y1="160.10" x2="22.87" y2="162.50" stroke="#111" stroke-width="0.8"/>
<line x1="24.75" y1="160.10" x2="24.75" y2="162.50" stroke="#111" stroke-width="0.8"/>
<line x1="26.29" y1="160.10" x2="26.29" y2="162.50" stroke="#111" stroke-width="0.8"/>
<line x1="27.59" y1="160.10" x2="27.59" y2="162.50" stroke="#111" stroke-width="0.8"/>
<line x1="28.72" y1="160.10" x2="28.72" y2="162.50" stroke="#111" stroke-width="0.8"/>
<line x1="29.71" y1="160.10" x2="29.71" y2="162.50" stroke="#111" stroke-width="0.8"/>
<line x1="30.60" y1="160.10" x2="30.60" y2="164.10" stroke="#111" stroke-width="0.8"/>
<line x1="36.45" y1="160.10" x2="36.45" y2="162.50" stroke="#111" stroke-width="0.8"/>
<line x1="39.87" y1="160.10" x2="39.87" y2="162.50" stroke="#111" stroke-width="0.8"/>
<line x1="42.30" y1="160.10" x2="42.30" y2="162.50" stroke="#111" stroke-width="0.8"/>
<line x1="44.18" y1="160.10" x2="44.18" y2="162.50" stroke="#111" stroke-width="0.8"/>
<line x1="45.72" y1="160.10" x2="45.72" y2="162.50" stroke="#111" stroke-width="0.8"/>
<line x1="47.02" y1="160.10" x2="47.02" y2="162.50" stroke="#111" stroke-width="0.8"/>
<line x1="48.15" y1="160.10" x2="48.15" y2="162.50" stroke="#111" stroke-width="0.8"/>
<line x1="49.14" y1="160.10" x2="49.14" y2="162.50" stroke="#111" stroke-width="0.8"/>
<line x1="50.03" y1="160.10" x2="50.03" y2="164.10" stroke="#111" stroke-width="0.8"/>
<line x1="55.88" y1="160.10" x2="55.88" y2="162.50" stroke="#111" stroke-width="0.8"/>
<line x1="59.31" y1="160.10" x2="59.31" y2="162.50" stroke="#111" stroke-width="0.8"/>
<line x1="61.73" y1="160.10" x2="61.73" y2="162.50" stroke="#111" stroke-width="0.8"/>
<line x1="63.62" y1="160.10" x2="63.62" y2="162.50" stroke="#111" stroke-width="0.8"/>
<line x1="65.16" y1="160.10" x2="65.16" y2="162.50" stroke="#111" stroke-width="0.8"/>
<line x1="66.46" y1="160.10" x2="66.46" y2="162.50" stroke="#111" stroke-width="0.8"/>
<line x1="67.58" y1="160.10" x2="67.58" y2="162.50" stroke="#111" stroke-width="0.8"/>
<line x1="68.58" y1="160.10" x2="68.58" y2="162.50" stroke="#111" stroke-width="0.8"/>
<line x1="69.47" y1="160.10" x2="69.47" y2="164.10" stroke="#111" stroke-width="0.8"/>
<line x1="75.32" y1="160.10" x2="75.32" y2="162.50" stroke="#111" stroke-width="0.8"/>
<line x1="78.74" y1="160.10" x2="78.74" y2="162.50" stroke="#111" stroke-width="0.8"/>
<line x1="81.17" y1="160.10" x2="81.17" y2="162.50" stroke="#111" stroke-width="0.8"/>
<line x1="83.05" y1="160.10" x2="83.05" y2="162.50" stroke="#111" stroke-width="0.8"/>
<line x1="84.59" y1="160.10" x2="84.59" y2="162.50" stroke="#111" stroke-width="0.8"/>
<line x1="85.89" y1="160.10" x2="85.89" y2="162.50" stroke="#111" stroke-width="0.8"/>
<line x1="87.02" y1="160.10" x2="87.02" y2="162.50" stroke="#111" stroke-width="0.8"/>
<line x1="88.01" y1="160.10" x2="88.01" y2="162.50" stroke="#111" stroke-width="0.8"/>
<line x1="88.90" y1="160.10" x2="88.90" y2="164.10" stroke="#111" stroke-width="0.8"/>
<line x1="94.75" y1="160.10" x2="94.75" y2="162.50" stroke="#111" stroke-width="0.8"/>
<line x1="98.17" y1="160.10" x2="98.17" y2="162.50" stroke="#111" stroke-width="0.8"/>
<text x="29.40" y="173.30" font-size="5.4" font-weight="normal" text-anchor="middle" fill="#333" stroke="#333" stroke-width="0.45">10</text>
<text x="32.40" y="170.10" font-size="3.6" font-weight="normal" text-anchor="start" fill="#333" stroke="#333" stroke-width="0.45">2</text>
<text x="49.60" y="173.30" font-size="5.4" font-weight="normal" text-anchor="middle" fill="#333" stroke="#333" stroke-width="0.45">10</text>
<text x="52.60" y="170.10" font-size="3.6" font-weight="normal" text-anchor="start" fill="#333" stroke="#333" stroke-width="0.45">3</text>
<text x="68.60" y="173.30" font-size="5.4" font-weight="normal" text-anchor="middle" fill="#333" stroke="#333" stroke-width="0.45">10</text>
<text x="71.60" y="170.10" font-size="3.6" font-weight="normal" text-anchor="start" fill="#333" stroke="#333" stroke-width="0.45">4</text>
<text x="87.70" y="173.30" font-size="5.4" font-weight="normal" text-anchor="middle" fill="#333" stroke="#333" stroke-width="0.45">10</text>
<text x="90.70" y="170.10" font-size="3.6" font-weight="normal" text-anchor="start" fill="#333" stroke="#333" stroke-width="0.45">5</text>
<text x="20.30" y="185.00" font-size="8.8" font-weight="bold" text-anchor="start" fill="#111" stroke="#111" stroke-width="0.15">(+/&#8722;)</text>
<path d="M74.7 233.7h0M48.5 235.8h0M35.4 204.9h0M64.7 235.7h0M28.4 204.5h0M25.1 214.6h0M32.5 203.3h0M75.3 221.2h0M88.7 212.9h0M70.4 195.2h0M89.4 205.2h0M56.2 217.9h0M89.4 217.0h0M92.4 222.9h0M37.8 232.6h0M36.8 240.2h0M54.7 204.9h0M90.3 209.3h0M51.3 210.2h0M69.7 195.6h0M48.9 202.0h0M80.9 194.6h0M65.4 206.4h0M54.6 220.2h0M72.7 200.9h0M68.4 196.2h0M58.6 215.2h0M66.2 211.7h0M61.6 217.6h0M69.9 196.4h0M67.0 207.0h0M57.5 225.2h0M59.8 227.3h0M65.2 211.5h0M56.4 227.5h0M60.5 227.1h0M56.3 230.3h0M61.1 217.1h0M60.1 213.8h0M62.6 213.7h0M68.2 205.1h0M59.0 228.2h0M53.5 227.2h0M70.7 202.8h0M59.2 222.0h0M54.7 221.5h0M68.3 203.9h0M68.7 210.1h0M59.6 224.3h0M71.5 199.1h0M58.8 224.0h0M71.1 196.1h0M60.9 218.6h0M62.6 222.5h0M65.3 218.2h0M62.1 224.4h0M72.2 196.6h0M64.3 212.1h0M66.6 205.2h0M77.0 197.6h0M57.5 217.7h0M69.6 194.2h0M73.7 195.9h0M69.9 197.1h0M61.0 224.6h0M63.3 223.5h0M61.3 222.9h0M57.9 229.7h0" stroke="#cbc6c6" stroke-width="0.9" stroke-linecap="round" stroke-opacity="0.9" fill="none"/>
<path d="M70.6 195.2h0M78.5 198.4h0M62.1 215.8h0M73.3 201.0h0M64.8 207.5h0M57.8 224.1h0M65.9 199.6h0M61.2 225.6h0M69.2 201.1h0M68.8 208.7h0M59.3 215.4h0M64.1 212.5h0M61.0 216.4h0M64.6 222.7h0M62.4 214.6h0M65.3 220.6h0M71.0 196.9h0M60.1 225.5h0M64.9 216.5h0M64.9 199.4h0M69.7 205.7h0M65.8 212.7h0M56.1 225.1h0M75.6 199.3h0M72.2 208.9h0M75.4 195.1h0M73.8 198.9h0M58.6 225.3h0M65.9 210.1h0M58.2 216.6h0M69.7 199.4h0M73.7 194.7h0M66.3 216.7h0M60.7 217.3h0M71.5 210.8h0M61.4 227.6h0M66.2 211.0h0M67.8 208.9h0M70.5 206.6h0M67.4 209.1h0M73.4 198.6h0M56.0 225.1h0M62.4 220.7h0M57.4 223.5h0M56.7 221.9h0M66.6 207.1h0M69.9 212.3h0M58.5 215.0h0M65.4 221.9h0M64.7 208.5h0M65.0 213.4h0M65.4 217.5h0M69.8 208.7h0M65.5 208.9h0M70.6 199.5h0M67.9 204.4h0M65.0 212.9h0M63.9 202.1h0M64.8 212.7h0M61.5 219.9h0M74.8 197.1h0M65.5 202.7h0M71.1 206.5h0M70.4 202.5h0M62.6 220.6h0M62.7 219.6h0M69.0 206.5h0M65.3 199.6h0M58.6 216.5h0M61.5 219.5h0M73.7 196.4h0M62.9 220.9h0M69.0 205.6h0" stroke="#a88070" stroke-width="0.95" stroke-linecap="round" stroke-opacity="0.8" fill="none"/>
<path d="M65.7 224.7h0M72.9 198.4h0M72.8 199.7h0M60.8 223.3h0M66.7 211.0h0M58.7 225.3h0M65.9 207.7h0M60.9 212.6h0M68.9 199.5h0M68.8 215.3h0M70.3 204.6h0M57.5 226.7h0M64.3 206.1h0M65.0 215.4h0M71.9 201.8h0M60.4 224.7h0M62.7 230.4h0M58.1 226.2h0M61.6 216.3h0M65.3 228.2h0M70.2 202.6h0M57.2 223.9h0M63.6 203.9h0M78.3 195.4h0M72.7 204.7h0M61.4 220.8h0M55.9 225.4h0M69.6 205.5h0M60.3 225.1h0M67.8 200.7h0M60.3 221.7h0M69.9 200.3h0M60.1 224.0h0M61.1 223.1h0M73.5 198.3h0M69.7 203.5h0M64.9 209.9h0M72.2 192.4h0M59.7 219.7h0M65.2 215.4h0M70.5 202.2h0M66.3 214.1h0M63.6 214.3h0M65.9 207.7h0M69.6 197.8h0M68.0 211.8h0M59.1 224.4h0M70.9 201.8h0M65.9 215.1h0M62.5 217.2h0M58.5 224.0h0M67.3 212.9h0M61.3 214.0h0M66.8 203.1h0M65.6 207.1h0M65.1 208.5h0M59.1 219.3h0M68.3 212.7h0M59.6 223.6h0M60.4 221.5h0M73.5 195.6h0M66.6 211.0h0M67.4 219.0h0M68.0 209.3h0M56.4 226.2h0M72.5 194.1h0M66.6 213.1h0M70.2 197.8h0M67.7 203.0h0M75.5 195.6h0M74.2 204.3h0M65.9 209.3h0M61.5 210.9h0M65.1 208.5h0M57.8 223.2h0M72.3 202.0h0M57.0 228.6h0M59.9 222.4h0M61.9 206.8h0M68.0 209.6h0M29.4 233.8h0M53.2 236.5h0M62.8 230.0h0M36.3 238.6h0M63.1 233.1h0M65.1 224.1h0M68.6 223.8h0M45.6 236.0h0M63.0 227.0h0M69.2 227.2h0M40.1 240.8h0M35.1 235.9h0M68.1 227.6h0M69.8 227.1h0M55.8 232.0h0M35.6 238.1h0M43.7 233.4h0M65.9 226.0h0M35.5 240.1h0M35.1 234.4h0M35.6 235.9h0M49.6 231.8h0M45.9 234.7h0M51.3 235.2h0M46.3 236.2h0M38.7 238.2h0M62.8 226.1h0M38.9 240.7h0M44.9 238.4h0M42.8 237.4h0M56.5 229.8h0M63.2 224.7h0M66.9 226.3h0M53.8 233.6h0M32.4 239.9h0M42.6 240.7h0M46.4 238.3h0M41.6 230.9h0M39.0 237.5h0M35.3 237.8h0M66.3 228.1h0M58.0 229.5h0M30.9 239.7h0M34.0 241.1h0M35.4 235.3h0M54.6 235.9h0M42.7 238.4h0M33.2 238.6h0M49.9 230.4h0M35.9 237.1h0M56.1 229.4h0M32.7 239.1h0M38.1 238.1h0M45.3 236.8h0M57.2 232.6h0M69.7 222.1h0M56.5 233.7h0M38.1 234.7h0M46.7 238.5h0M69.6 224.8h0M66.7 228.1h0M49.0 237.1h0M37.0 236.8h0M62.2 225.7h0M48.4 233.3h0M34.8 237.2h0M57.1 231.6h0M57.6 224.5h0M30.9 235.4h0M58.3 231.2h0M42.2 236.0h0M31.2 235.1h0M43.3 234.8h0M57.5 228.3h0M40.4 241.1h0M69.1 223.5h0M32.8 239.0h0M58.8 233.2h0M35.4 235.6h0M64.8 226.5h0M44.6 235.3h0M56.5 232.6h0M43.5 237.0h0M64.9 229.2h0M66.3 225.7h0M61.2 231.6h0M68.7 221.2h0M55.4 235.8h0M37.1 237.2h0M50.3 232.2h0M44.3 237.0h0M49.9 233.1h0M40.4 236.7h0M49.6 232.0h0M56.2 231.9h0M36.6 236.2h0M60.6 229.1h0M57.9 231.7h0M39.2 234.7h0M66.9 222.6h0M40.9 237.5h0M45.5 235.1h0M48.8 230.3h0M59.0 231.2h0M43.7 239.9h0M41.6 234.5h0M59.1 234.0h0M37.5 238.8h0M55.8 237.0h0M56.7 228.8h0M40.2 234.6h0M31.5 238.5h0M68.4 224.7h0M50.5 231.1h0M62.0 222.2h0M38.4 237.5h0M61.6 230.0h0M59.2 227.6h0M40.1 238.0h0M49.0 233.8h0M63.8 221.7h0M64.6 224.2h0M41.9 238.5h0M68.9 224.5h0M40.5 239.2h0M66.8 226.9h0M63.9 225.4h0M65.5 224.7h0M60.7 230.3h0M44.4 241.2h0M47.0 240.0h0M45.3 234.7h0M29.8 237.8h0M45.0 236.3h0M44.2 237.1h0M60.2 227.6h0M54.6 236.4h0M54.1 233.6h0M41.0 239.3h0M66.3 231.0h0M38.6 235.0h0M42.2 235.5h0M30.5 237.1h0M53.7 236.8h0M49.9 236.2h0M41.8 238.8h0M46.1 232.3h0M69.4 223.8h0M53.1 232.9h0M61.7 229.4h0M62.2 227.9h0M48.6 240.1h0M69.5 226.0h0M38.3 239.1h0M54.6 233.7h0M51.5 228.9h0M44.9 237.0h0M39.7 236.7h0M59.9 221.7h0M47.9 235.6h0M32.8 239.0h0M32.7 236.8h0M49.8 237.1h0M40.9 236.7h0M69.3 220.4h0M35.9 235.3h0M44.2 236.6h0M64.3 228.6h0M42.8 234.5h0M40.6 235.3h0M33.7 238.0h0M55.9 229.7h0M42.5 236.8h0M63.6 226.0h0M68.2 226.8h0M43.8 235.6h0M56.2 232.9h0M56.3 229.2h0M38.5 239.1h0M61.4 223.9h0M44.4 238.2h0M59.1 232.3h0M68.4 224.6h0M57.0 230.1h0M48.4 232.5h0M37.1 240.3h0M57.4 234.9h0M39.6 237.0h0M54.1 231.8h0M36.0 236.1h0M51.6 234.0h0M34.5 234.9h0M34.5 239.1h0M41.7 235.9h0M54.3 229.7h0M61.0 227.5h0M47.1 235.0h0M63.0 223.7h0M43.9 235.0h0M47.4 240.9h0M55.8 231.2h0M33.4 238.3h0M67.3 224.6h0M68.9 223.6h0M63.7 225.4h0M36.3 240.1h0M29.6 236.0h0M65.5 221.4h0M57.2 233.4h0M50.8 235.7h0M65.8 224.6h0M42.9 239.7h0M31.7 239.3h0M32.0 237.9h0M35.5 237.6h0M41.0 236.5h0M66.1 232.1h0M64.7 229.9h0M61.6 228.7h0M59.0 228.1h0M51.6 237.6h0M54.1 234.0h0M57.7 230.0h0M48.0 236.2h0M37.1 235.4h0M68.2 223.5h0M63.1 232.5h0M39.2 237.1h0M38.2 235.6h0M37.9 240.8h0M49.9 234.1h0M49.6 239.6h0M59.6 230.9h0M64.9 225.5h0M43.2 238.6h0M59.0 228.9h0M50.5 232.2h0M35.3 241.4h0M49.8 233.3h0M61.3 230.5h0M43.5 241.2h0M62.3 230.3h0M55.1 233.8h0M48.8 232.6h0M37.9 240.8h0M46.9 241.0h0M39.4 238.0h0M63.1 224.4h0M54.7 231.5h0" stroke="#e0604a" stroke-width="0.9" stroke-linecap="round" stroke-opacity="0.85" fill="none"/>
<path d="M63.8 220.1h0M72.9 198.5h0M62.9 218.6h0M62.9 209.3h0M68.2 205.9h0M59.9 227.4h0M53.4 221.2h0M66.0 216.2h0M62.9 217.0h0M69.1 208.1h0M57.2 224.3h0M63.8 218.1h0M72.0 209.1h0M68.2 196.2h0M60.0 221.9h0M61.1 226.2h0M62.8 220.7h0M64.2 212.1h0M61.8 207.9h0M67.0 209.7h0M60.5 216.9h0M54.7 226.2h0M64.2 202.0h0M65.8 207.5h0M70.3 200.3h0M63.7 217.5h0M70.9 204.2h0M56.5 226.7h0M68.8 215.7h0M56.3 220.2h0M67.0 210.5h0M61.3 216.2h0M63.7 219.5h0M61.9 221.4h0M38.5 238.7h0M59.6 232.9h0M59.9 229.3h0M41.5 241.0h0M48.5 240.0h0M62.4 235.7h0M39.8 240.7h0M52.0 237.2h0M48.4 241.3h0M64.1 238.2h0M34.1 240.0h0M41.1 238.5h0M45.3 238.5h0M55.7 237.7h0M52.2 235.9h0M40.0 239.5h0M60.0 230.3h0M35.6 240.7h0M36.5 240.0h0M43.7 240.1h0M49.6 236.5h0M38.9 240.7h0M31.8 239.7h0M60.4 228.4h0M43.1 239.6h0M64.5 235.0h0M47.4 238.4h0M50.8 238.2h0M60.2 239.1h0M48.0 236.0h0M48.3 238.6h0M53.2 239.3h0M53.8 238.1h0M62.6 227.0h0M31.6 239.3h0M50.1 240.5h0M44.9 240.4h0M54.9 235.2h0M57.4 237.8h0M54.9 238.2h0M38.2 238.9h0M44.8 238.8h0M61.8 240.4h0M65.2 241.0h0M58.1 236.9h0M52.2 238.1h0M37.6 238.5h0M47.9 238.8h0M43.2 238.6h0M61.4 236.0h0M59.3 240.9h0M50.6 235.1h0M40.3 240.4h0M40.0 239.6h0M51.0 239.6h0M53.0 237.9h0M32.1 240.6h0M55.1 234.6h0M35.7 240.6h0M58.1 241.2h0M48.4 241.3h0M40.1 240.6h0M36.8 239.9h0M39.2 238.7h0M49.2 235.9h0M35.1 239.4h0M37.9 239.6h0M62.1 240.0h0M35.1 239.5h0M43.4 239.2h0M40.3 239.3h0M45.4 240.0h0M57.4 235.9h0M43.3 240.9h0M50.8 238.7h0M49.0 235.6h0M45.9 236.2h0M64.3 237.3h0M60.6 228.2h0M55.9 233.2h0M55.0 239.7h0M44.5 238.5h0M40.0 241.1h0M56.9 240.3h0M50.3 241.1h0M40.1 238.0h0M47.6 237.3h0M59.3 233.4h0M47.8 240.3h0M64.3 225.9h0M60.9 230.1h0M43.0 238.2h0M59.6 230.4h0M43.5 237.9h0M50.7 235.6h0M62.5 229.0h0M57.1 235.2h0M42.3 240.0h0M38.1 240.7h0M63.0 236.5h0M61.7 235.8h0M32.9 240.3h0M49.5 238.9h0M31.2 239.0h0M42.6 241.0h0M58.2 234.7h0M52.0 233.8h0M48.3 235.3h0M64.1 241.1h0M59.2 231.5h0M56.3 239.8h0M52.6 239.2h0M49.0 237.7h0M61.2 232.8h0M56.1 235.6h0M45.4 236.7h0M48.2 237.1h0M64.6 230.9h0M58.0 236.3h0M50.1 236.1h0M46.7 236.9h0M44.0 238.3h0M63.4 233.8h0M46.7 236.2h0M64.6 231.1h0M40.9 237.8h0M41.2 241.3h0M51.6 238.2h0M63.5 229.4h0M55.3 239.1h0M44.6 238.3h0M52.0 238.8h0M55.6 238.1h0M32.3 241.2h0M33.7 239.6h0M65.8 226.9h0M54.3 237.9h0M43.7 238.6h0M34.8 240.1h0M48.5 240.8h0M59.0 240.0h0M53.8 233.7h0M65.7 226.3h0M56.5 238.5h0M64.7 237.3h0M52.7 238.3h0M45.1 239.8h0M52.0 234.0h0M54.7 232.1h0M32.9 240.2h0M53.1 236.1h0M49.0 237.3h0M52.3 241.3h0M44.0 237.4h0M35.3 239.6h0M60.4 238.3h0M48.2 238.2h0M56.3 238.0h0M55.8 231.9h0M42.9 239.2h0M47.3 240.4h0M54.8 234.1h0M64.9 233.2h0M64.4 238.8h0M60.9 228.9h0M36.1 240.5h0M40.1 238.9h0M54.8 240.3h0M60.2 230.8h0M61.2 238.4h0M64.6 241.4h0M61.9 229.7h0M37.3 239.5h0M60.1 228.7h0M47.1 239.6h0M55.8 234.6h0M61.4 237.9h0M52.9 240.3h0M62.7 231.1h0M56.6 240.1h0M60.1 240.1h0M43.9 237.9h0M51.0 240.6h0M46.5 236.6h0M41.1 241.1h0M57.5 240.5h0M42.4 239.7h0M48.8 241.2h0M46.7 237.5h0M61.6 234.0h0M58.3 238.0h0M45.1 237.7h0M41.7 238.0h0M56.6 236.3h0M49.6 238.4h0M53.0 234.1h0M43.6 239.2h0M60.1 239.4h0M50.6 238.6h0M61.6 228.9h0M48.6 236.7h0M64.8 230.5h0M44.8 239.2h0M50.7 234.8h0M64.3 225.9h0M38.6 238.5h0M56.6 231.0h0M32.6 239.3h0M60.1 238.7h0M60.3 235.3h0M49.4 236.5h0M38.1 238.4h0M41.7 239.1h0M63.7 226.7h0M55.6 240.7h0M52.7 236.6h0M51.0 238.8h0M49.1 240.3h0M63.5 234.8h0M42.8 240.1h0M49.5 237.6h0M42.5 241.2h0M39.0 238.5h0M44.0 237.8h0M49.0 241.1h0M35.3 239.6h0M56.2 233.0h0M46.5 241.0h0M53.1 241.0h0M50.9 241.1h0M58.4 236.2h0M42.3 240.6h0M41.1 238.7h0M46.0 237.1h0M54.3 236.3h0M40.4 237.9h0M55.9 240.4h0M46.2 240.2h0M62.7 228.6h0M60.2 232.1h0M45.4 239.9h0M59.7 237.0h0M58.2 230.0h0M47.2 235.7h0M32.2 240.0h0M48.1 236.7h0M46.1 238.5h0M60.7 234.9h0M34.0 240.2h0M30.6 240.8h0M56.9 236.7h0M57.6 233.9h0M40.6 238.7h0M41.1 240.2h0M47.3 237.2h0M54.6 239.8h0M59.7 239.5h0M38.0 240.6h0M52.1 234.0h0M46.2 237.4h0M57.1 231.1h0M64.6 241.2h0M46.0 239.1h0M63.8 241.0h0M61.5 228.9h0M44.3 240.4h0M37.7 240.9h0M43.7 238.8h0M49.8 236.1h0M59.4 237.2h0M64.1 233.8h0M45.2 240.7h0M62.7 227.7h0M62.8 240.9h0M57.9 231.9h0M47.9 238.4h0M57.2 236.8h0M66.6 238.0h0M58.7 240.0h0M39.6 239.6h0M40.5 239.1h0M61.9 239.6h0M42.2 237.6h0M45.6 239.4h0M63.7 227.5h0M43.2 239.0h0M65.6 228.1h0M60.2 233.6h0M37.6 239.0h0M58.4 237.7h0M56.2 241.0h0M64.9 235.0h0M59.3 237.7h0M53.5 241.2h0M52.9 235.7h0M50.2 234.6h0M64.9 229.7h0M58.5 234.3h0M33.3 239.9h0M60.6 237.8h0M34.0 241.3h0M38.6 238.2h0M59.0 230.5h0M57.2 235.0h0M37.0 241.4h0M50.2 241.0h0M67.5 225.6h0M59.9 240.9h0M56.7 239.9h0M52.2 235.0h0M39.2 240.5h0M42.4 239.5h0M54.7 236.6h0M51.5 233.8h0M42.8 240.1h0M38.4 240.1h0M34.6 239.1h0M57.3 233.4h0M59.0 238.9h0M54.7 235.8h0M60.3 230.7h0M61.4 227.9h0M38.2 239.1h0M59.4 233.4h0M59.0 230.2h0M56.2 234.7h0M53.2 236.5h0M38.6 240.0h0M48.4 239.2h0M48.7 238.7h0M48.0 241.3h0M58.3 236.8h0M49.6 239.8h0M32.1 239.2h0M64.2 236.2h0M36.0 238.9h0M61.6 231.6h0M61.1 235.0h0M48.3 236.1h0M63.6 239.6h0M55.9 236.8h0M39.1 241.2h0M60.0 232.9h0M51.6 234.5h0M63.9 232.1h0M49.0 239.8h0M64.1 237.8h0M46.3 238.3h0M44.7 240.5h0M58.9 237.4h0M65.2 231.2h0M37.5 240.2h0M55.1 241.1h0M37.8 239.7h0M39.9 238.3h0M53.3 239.2h0M54.2 240.0h0M45.2 239.2h0M63.8 239.3h0M42.5 240.0h0M48.5 238.4h0M47.7 236.8h0M61.8 237.9h0M66.2 232.1h0M56.8 240.0h0M63.4 235.9h0M56.8 239.2h0M40.8 240.2h0M57.2 233.6h0M49.7 240.9h0M44.1 238.9h0M47.6 239.9h0M44.7 237.6h0M61.0 232.0h0M62.7 240.7h0M39.7 240.5h0M53.2 237.7h0M42.1 237.5h0M59.2 229.4h0M43.8 237.6h0M37.6 238.7h0M44.5 240.9h0M42.2 238.8h0M55.2 238.7h0M46.2 241.2h0M56.4 237.8h0M39.2 240.6h0M40.8 239.1h0M56.0 232.5h0M37.7 240.9h0M42.2 239.2h0M58.5 230.9h0M52.3 241.3h0M46.2 240.6h0M55.0 238.6h0M61.6 231.8h0M37.1 240.2h0M38.3 239.3h0M46.2 239.3h0M38.8 240.2h0M52.6 234.8h0M36.4 240.5h0M65.4 228.4h0M51.6 235.4h0M54.5 240.5h0M63.1 236.5h0M48.5 237.0h0M60.4 231.0h0M62.6 230.2h0M58.0 237.2h0M47.6 238.7h0M62.2 236.5h0M44.6 237.2h0M46.9 237.5h0M49.6 237.7h0M46.3 239.9h0M63.1 240.1h0M40.6 237.9h0M34.4 239.9h0M52.1 238.1h0M55.1 240.4h0M39.9 239.1h0M56.5 231.7h0M33.6 241.4h0M43.0 239.1h0M59.3 239.5h0M53.7 237.9h0M50.4 239.4h0M65.2 236.3h0M57.5 236.0h0M59.5 232.9h0M51.5 237.1h0M58.7 241.3h0M62.9 230.7h0M51.7 238.8h0M57.8 232.1h0M48.9 241.1h0M38.2 241.2h0M53.7 237.5h0M36.7 238.8h0M60.9 237.3h0M54.6 238.2h0M66.6 226.5h0M35.7 241.1h0M47.4 235.7h0M62.2 227.6h0M42.3 240.3h0M35.2 240.0h0M44.7 238.5h0M44.3 238.0h0M57.3 236.3h0M43.8 241.2h0M50.4 235.3h0M62.4 228.9h0M60.6 237.8h0M58.9 229.6h0M38.5 240.3h0M54.8 240.3h0M60.9 237.0h0M46.9 240.4h0M63.8 240.4h0M52.3 235.5h0M65.9 234.9h0M65.8 232.1h0M64.9 225.8h0M44.1 238.8h0M45.6 236.5h0M61.8 237.8h0M62.0 227.9h0M43.6 239.8h0M54.4 235.4h0M38.2 238.5h0M35.6 241.0h0M35.5 238.7h0M59.2 229.5h0M64.4 232.8h0M42.0 238.5h0M56.7 232.5h0M47.4 240.2h0M61.7 241.1h0M52.6 233.8h0M49.7 240.1h0M48.3 241.4h0M36.4 239.4h0M38.6 238.6h0M64.3 238.6h0M31.7 240.5h0M31.7 240.3h0M41.0 240.6h0M34.8 239.5h0M37.7 238.4h0M46.9 239.6h0M51.5 236.1h0M46.7 237.0h0M41.8 239.6h0M64.5 239.7h0M58.7 239.9h0M54.5 234.4h0M49.8 237.3h0M49.6 240.1h0M49.0 234.9h0M53.0 238.6h0M41.5 240.4h0M56.6 230.9h0M49.1 237.1h0M62.1 238.5h0M47.1 239.7h0M51.0 235.9h0M56.8 241.4h0M35.3 241.3h0M50.6 236.8h0M41.7 238.1h0M49.8 237.2h0M52.9 239.2h0M60.7 237.1h0M62.9 233.9h0M33.6 239.3h0M38.7 238.9h0M47.5 238.8h0M65.6 225.6h0M63.7 239.2h0M32.6 239.3h0M56.5 238.6h0M63.4 233.2h0M32.4 241.2h0M66.0 225.6h0M61.8 239.8h0M58.5 231.9h0M60.4 241.2h0M36.5 239.0h0M60.8 229.9h0M38.1 240.4h0M32.1 239.5h0M60.6 233.7h0M65.9 224.6h0M34.6 239.4h0M42.2 237.4h0M35.9 240.2h0M39.4 239.0h0M52.4 235.2h0M45.3 237.9h0M63.7 236.6h0M61.9 235.6h0M52.8 240.8h0M36.9 241.3h0M58.6 232.7h0M55.7 233.2h0M56.7 239.0h0M53.3 240.1h0M62.8 232.0h0M64.5 233.1h0M35.7 240.6h0M51.3 237.0h0M56.2 235.4h0M60.2 228.7h0M60.4 239.7h0M38.0 241.0h0M34.0 240.1h0M31.7 240.9h0M32.2 240.7h0M42.8 239.9h0M46.8 241.3h0M61.6 241.4h0M41.8 237.9h0M50.9 234.9h0M39.7 239.7h0M54.2 235.8h0M57.5 234.4h0M55.2 241.2h0M61.9 229.2h0M64.7 238.6h0M47.4 240.2h0M62.9 235.7h0M62.9 237.5h0M53.8 238.0h0M36.7 239.1h0M41.3 239.0h0M56.4 235.9h0M62.1 233.7h0M39.7 240.6h0M40.0 238.3h0M56.9 240.5h0M41.4 241.3h0M36.4 239.8h0M56.1 238.9h0M55.2 236.3h0M47.3 239.0h0M52.8 234.4h0M65.8 229.0h0M55.0 232.2h0M65.3 231.8h0M49.3 239.9h0M60.3 235.0h0M50.7 236.3h0M61.4 230.3h0M43.7 238.4h0M52.5 238.5h0M32.9 240.2h0M52.7 237.4h0M36.1 240.9h0M49.5 237.9h0M49.0 240.5h0M30.8 240.7h0M46.2 239.7h0M57.6 241.3h0M38.8 240.7h0M46.9 236.0h0M50.3 237.3h0M64.4 228.0h0M45.6 241.2h0M63.8 240.4h0M58.8 236.9h0M55.8 237.7h0M46.1 236.7h0M42.2 237.4h0M38.9 240.7h0M61.2 230.7h0M58.5 232.1h0M38.6 238.8h0M50.4 235.0h0M51.1 237.7h0M35.1 241.0h0M61.2 239.3h0M50.5 238.1h0M37.4 239.2h0M53.9 236.0h0M63.3 240.6h0M62.3 239.0h0M43.6 238.8h0M51.3 237.9h0M38.9 240.4h0M60.6 229.0h0M64.2 235.2h0M50.2 239.6h0M59.4 235.1h0M64.9 226.7h0M51.0 237.6h0M60.7 238.9h0M44.6 238.5h0M37.0 239.2h0M49.9 235.4h0M42.3 241.2h0M37.3 238.5h0M47.5 237.2h0M32.8 241.2h0M54.2 237.4h0M46.7 240.7h0M36.4 241.3h0M42.5 237.4h0M60.8 239.7h0M60.5 228.3h0M53.9 240.3h0M42.8 238.8h0M63.0 241.2h0M32.7 240.7h0M62.3 239.8h0M61.2 233.1h0M31.1 239.9h0M55.4 240.3h0M41.4 238.9h0M36.7 239.1h0M53.6 238.3h0M64.5 232.2h0M61.8 236.2h0M47.6 237.6h0M39.6 239.4h0M44.7 241.3h0M52.3 238.9h0M55.2 235.3h0M44.0 240.2h0M51.6 235.5h0M51.7 238.6h0M44.4 237.0h0M41.8 241.1h0M57.4 233.9h0M46.7 239.0h0M57.7 232.6h0M57.9 234.8h0M37.5 241.3h0M56.6 235.4h0M62.3 234.6h0M51.8 239.2h0M51.5 241.4h0M46.7 240.3h0M54.7 232.7h0M59.5 240.3h0M33.2 239.7h0M50.8 241.1h0M50.8 241.1h0M37.4 238.7h0M53.8 233.2h0M63.5 231.5h0M61.6 230.1h0M47.1 240.6h0M62.4 240.5h0M53.5 233.1h0M55.7 235.7h0M40.5 240.2h0M39.2 239.2h0M56.3 232.1h0M61.2 234.0h0M65.0 233.2h0M36.2 238.6h0M52.6 234.0h0M51.0 236.1h0M51.6 239.3h0M49.1 240.4h0M50.7 236.6h0M35.3 240.7h0M61.9 237.1h0M34.9 239.3h0M34.7 239.5h0M54.3 236.6h0M40.9 238.8h0M38.0 239.6h0M53.6 235.2h0M50.8 241.2h0M47.7 241.2h0M66.9 238.5h0M61.5 237.5h0M60.1 231.9h0M43.1 237.8h0M53.2 239.2h0M47.4 239.3h0M37.0 240.0h0M52.4 234.3h0M35.0 240.0h0M52.7 239.3h0M42.0 237.7h0M62.8 227.0h0M44.0 239.8h0M36.0 240.0h0M64.9 236.8h0M63.4 240.6h0M62.0 227.8h0M56.0 237.5h0M48.7 235.9h0M62.6 236.6h0M32.2 239.8h0M34.8 241.2h0M62.7 227.0h0M42.0 238.9h0M34.1 241.0h0M59.0 229.7h0M61.8 231.3h0M51.4 235.1h0M60.0 239.1h0M45.7 239.7h0M62.4 227.0h0M34.5 241.2h0M47.9 239.3h0M49.1 235.8h0M52.2 237.7h0M64.2 237.0h0M52.2 240.2h0M52.1 235.1h0M51.4 240.4h0M63.6 240.7h0M56.7 236.9h0M59.9 235.9h0M48.4 239.7h0M65.3 238.2h0M38.0 239.2h0M33.9 239.6h0M48.0 238.8h0M45.5 238.7h0M44.1 238.1h0M44.2 239.3h0M53.3 237.7h0M35.4 241.1h0M39.5 239.2h0M47.1 236.3h0M42.8 240.8h0M57.8 234.9h0M43.9 239.5h0M54.0 235.5h0M50.6 234.6h0M48.1 237.5h0M36.9 240.3h0M46.1 238.7h0M43.6 238.4h0M52.5 233.6h0M66.4 226.5h0M31.8 241.1h0M66.1 230.5h0M49.0 238.7h0M38.6 241.0h0M62.3 233.0h0M62.4 237.4h0M62.5 238.3h0M55.6 240.6h0M51.2 237.5h0M61.3 237.2h0M61.2 238.2h0M56.2 234.1h0M51.8 240.5h0M51.7 237.1h0M49.0 238.1h0M35.1 240.5h0M43.9 240.5h0M64.7 231.5h0M52.8 239.7h0M33.7 239.9h0M32.2 241.3h0M39.4 238.1h0M55.7 236.2h0M33.3 239.2h0M34.0 239.2h0M51.2 240.8h0M55.1 239.3h0M58.4 234.2h0M59.2 229.8h0M44.7 237.1h0M60.6 231.3h0M54.7 232.3h0M66.4 235.4h0M60.6 230.8h0M49.0 238.8h0M59.9 230.3h0M32.8 241.4h0M52.0 240.7h0M63.7 237.9h0M38.8 240.1h0M53.5 236.6h0M63.6 234.2h0M48.9 237.0h0M37.1 239.2h0M51.4 238.7h0M37.9 238.7h0M63.0 238.6h0M59.5 230.7h0M40.1 240.2h0M52.1 239.0h0M61.6 235.9h0M49.4 236.7h0M48.2 237.3h0M53.6 238.9h0M53.4 233.1h0M42.2 240.8h0M62.2 233.9h0M34.1 240.9h0M46.4 236.5h0M50.2 240.6h0M53.5 235.8h0M36.0 239.3h0M55.1 232.6h0M55.3 234.6h0M61.4 240.5h0M49.0 235.8h0M54.5 234.5h0M59.4 236.7h0M52.1 237.2h0M57.6 239.6h0M47.0 236.6h0M64.3 240.8h0M66.3 237.8h0M33.9 239.4h0M31.4 241.1h0M48.0 239.3h0M59.3 235.3h0M65.4 225.8h0M62.8 233.0h0M53.0 239.5h0M41.9 239.0h0M46.2 237.0h0M35.6 239.1h0M51.7 236.0h0M48.4 236.9h0M54.8 234.3h0M33.1 239.8h0M53.1 237.4h0M50.4 236.1h0M35.3 239.8h0M43.7 240.5h0M43.3 237.6h0M58.3 238.3h0M55.3 235.2h0M37.9 239.8h0M51.3 234.5h0M55.0 240.7h0M61.6 231.4h0M61.8 228.9h0M36.1 239.1h0M56.9 236.4h0M64.2 226.0h0M51.6 235.7h0M56.2 236.2h0M42.6 240.3h0M62.5 231.3h0M51.1 237.1h0M57.7 230.5h0M41.7 239.6h0M36.1 241.3h0M62.1 230.0h0M62.4 236.0h0M52.1 233.8h0M53.0 241.4h0M43.6 240.9h0M61.3 232.1h0M43.2 238.3h0M45.5 237.2h0M60.2 233.9h0M57.3 237.8h0M59.3 234.5h0M38.8 241.4h0M35.3 240.2h0M39.1 238.9h0M60.2 237.3h0M54.2 237.9h0M65.3 237.0h0M64.5 236.3h0M57.2 231.8h0M58.5 232.9h0M54.2 233.7h0M36.4 239.2h0M56.2 240.8h0M51.0 238.5h0M51.5 237.3h0M55.0 238.8h0M40.4 241.0h0M62.3 236.2h0M63.3 228.2h0M66.1 240.2h0M43.3 239.2h0M32.5 239.7h0M40.5 241.0h0M46.6 240.8h0M60.8 229.6h0M34.8 239.7h0M43.7 237.7h0M38.2 240.7h0M64.3 229.3h0M35.5 241.0h0M57.5 234.0h0M42.1 237.9h0M55.8 234.4h0M57.0 233.0h0M52.9 236.5h0M51.6 239.3h0M51.3 239.8h0M30.0 239.6h0M41.6 239.4h0M53.6 236.9h0M57.0 231.9h0M52.6 240.4h0M42.5 240.1h0M46.4 236.0h0M58.8 237.0h0M58.2 234.1h0M64.7 235.2h0M63.0 239.2h0M60.1 236.0h0M45.7 236.8h0M64.1 229.2h0M40.4 240.7h0M46.7 240.4h0M51.8 238.2h0M44.1 238.2h0M47.7 236.9h0M63.0 237.0h0M43.7 237.1h0M56.0 235.8h0M34.6 238.8h0M40.0 239.3h0M37.5 239.0h0M58.9 239.2h0M44.0 241.0h0M41.3 240.7h0M64.0 226.0h0M39.2 240.9h0M48.1 236.6h0M52.8 234.7h0M46.8 237.4h0M52.1 235.3h0M41.3 238.2h0M58.4 239.6h0M59.4 238.2h0M59.8 232.3h0M57.4 234.3h0M57.9 241.3h0M62.3 233.9h0M55.9 232.1h0M55.0 236.7h0M33.6 240.0h0M48.7 240.0h0M46.3 237.4h0M61.5 239.7h0M52.7 235.2h0M59.7 229.3h0M55.5 235.0h0M47.6 239.0h0M63.8 231.0h0M58.2 239.9h0M65.3 231.6h0M54.9 234.7h0M58.9 233.4h0M42.2 238.8h0M63.7 240.0h0M61.0 234.2h0M36.1 240.2h0M57.1 235.9h0M60.2 239.9h0M63.8 238.1h0M39.0 240.7h0M48.7 237.9h0M63.0 235.0h0M57.4 241.1h0M38.7 238.8h0M37.6 239.8h0M34.5 241.1h0M56.8 236.3h0M47.9 235.4h0M34.7 239.9h0M65.2 228.3h0M37.0 238.5h0M57.8 234.6h0M42.7 239.8h0M54.2 240.6h0M50.1 237.9h0M59.2 231.4h0M57.9 239.1h0M56.2 241.2h0M41.5 238.6h0M33.6 239.1h0M38.7 239.4h0M61.1 228.6h0M50.3 235.9h0M56.1 233.5h0M40.2 239.2h0M57.9 239.4h0M54.5 233.8h0M64.8 230.3h0M49.1 240.6h0M36.4 240.6h0M41.0 238.1h0M53.3 233.7h0M63.0 237.7h0M52.9 238.8h0M62.5 236.4h0M49.6 237.8h0M66.3 224.4h0M64.8 232.7h0M54.2 237.0h0M60.9 229.0h0M55.2 240.1h0M49.6 241.0h0M41.5 240.9h0M49.7 241.0h0M55.1 235.3h0M64.6 241.2h0M57.4 236.7h0M31.7 240.5h0M51.2 238.8h0M64.1 228.5h0M59.5 230.9h0M38.1 240.7h0M31.5 239.0h0M64.2 234.9h0M52.7 237.1h0M41.0 238.1h0M34.6 238.7h0M39.8 240.5h0M59.4 241.2h0M44.5 239.9h0M62.9 228.1h0M66.0 227.3h0M34.2 241.1h0M43.2 238.2h0M54.6 240.8h0M64.5 229.1h0M53.1 239.6h0M43.0 240.6h0M54.9 234.1h0M52.2 238.9h0M57.1 236.1h0M38.9 239.0h0M50.3 234.6h0M53.2 236.3h0M65.6 239.6h0M63.2 240.4h0M65.0 225.6h0M54.6 234.4h0M54.8 234.4h0M50.6 240.5h0M53.6 233.7h0M56.0 233.8h0M60.3 235.8h0M47.5 236.9h0M62.5 238.2h0M33.1 239.6h0M58.7 232.8h0M48.2 236.7h0M62.9 234.9h0M45.6 239.5h0M52.0 240.9h0M55.7 234.3h0M56.4 241.2h0M39.5 241.3h0M52.9 237.0h0M31.4 241.3h0M65.2 230.3h0M51.9 237.2h0M60.5 232.4h0M62.3 239.7h0M60.5 231.0h0M66.7 227.7h0M46.9 241.1h0M52.8 236.7h0M57.7 233.1h0M48.9 237.0h0M62.8 234.2h0M62.4 237.5h0M43.8 240.7h0M66.2 232.5h0M58.5 236.9h0M54.1 240.6h0M64.7 240.9h0M42.8 240.0h0M56.7 238.5h0M54.6 235.0h0M52.4 240.7h0M55.4 236.7h0M60.2 230.4h0M42.3 238.8h0M32.1 240.3h0M51.0 238.7h0M42.2 241.2h0M43.1 237.4h0M44.3 239.7h0M65.6 224.5h0M38.6 240.0h0M45.1 238.1h0M63.1 239.7h0M45.6 240.7h0M48.8 235.2h0M66.4 233.9h0M56.9 231.9h0M63.7 239.2h0M41.1 238.5h0M34.9 239.7h0M32.9 240.6h0M30.0 239.6h0M65.4 235.8h0M60.4 228.7h0M47.9 238.8h0M52.6 238.8h0M59.4 230.8h0M48.5 238.8h0M62.0 231.4h0M61.1 228.9h0M64.0 241.3h0M52.5 238.5h0M31.8 239.1h0M32.5 240.5h0M59.6 235.3h0M35.8 239.1h0M58.5 231.9h0M51.8 237.7h0M51.2 238.9h0M58.6 236.9h0M55.8 232.0h0M61.2 236.2h0M46.0 241.2h0M53.7 233.2h0M36.3 238.6h0M57.8 233.3h0M58.9 231.1h0M62.9 230.6h0M41.2 240.0h0M51.5 237.9h0M64.0 227.0h0M39.0 238.9h0M47.1 237.2h0M44.6 238.2h0M47.8 237.6h0M65.0 236.7h0M32.4 239.8h0M60.9 229.5h0M48.9 236.7h0M61.4 236.4h0M48.8 238.8h0M62.5 240.5h0M66.0 230.2h0M44.2 237.9h0M61.9 238.3h0M44.0 237.5h0M55.0 239.6h0M31.9 240.5h0M54.5 238.4h0M44.8 237.8h0M47.2 239.2h0M32.3 239.3h0M52.3 237.0h0M62.9 241.3h0M64.6 226.6h0M62.7 232.6h0M31.5 240.0h0M60.9 239.6h0M61.6 240.9h0M38.1 240.6h0M53.2 238.9h0M47.5 237.7h0M46.8 241.2h0M53.9 235.0h0M39.9 241.2h0M64.4 230.2h0M39.6 241.1h0M47.1 236.4h0M63.6 232.3h0M51.0 236.5h0M50.5 239.2h0M49.7 236.8h0M64.6 234.8h0M42.6 239.9h0M60.7 237.6h0M55.0 234.0h0M37.4 239.5h0M57.2 239.0h0M42.4 237.7h0M63.3 229.3h0M47.9 238.6h0M64.8 239.9h0M48.9 239.5h0M52.9 241.0h0M56.1 234.0h0M58.9 238.2h0M43.2 237.4h0M58.2 235.7h0M48.2 236.7h0M38.5 241.1h0M56.0 237.2h0M65.8 226.3h0M44.9 239.2h0M60.9 231.9h0M61.1 234.0h0M55.3 241.2h0M60.5 230.2h0M53.7 234.9h0M57.7 240.8h0M45.1 240.6h0M56.0 240.0h0M40.6 239.4h0M50.3 237.7h0M43.5 241.0h0M35.5 240.9h0M51.3 240.2h0M59.3 240.5h0M64.6 240.0h0M56.4 232.1h0M38.4 239.1h0M64.8 234.2h0M51.2 235.0h0M47.9 240.2h0M39.2 238.3h0M44.2 238.2h0M51.4 240.6h0M46.9 239.0h0M67.2 236.4h0M34.8 239.3h0M54.5 238.8h0M59.5 234.5h0M65.5 225.5h0M47.3 237.6h0M31.9 239.7h0M59.7 240.6h0M53.5 240.5h0M59.7 232.2h0M50.9 240.1h0M48.2 235.9h0M45.1 241.3h0M56.3 233.1h0M59.9 233.5h0M62.6 231.6h0M38.3 240.9h0M55.4 238.7h0M53.1 237.1h0M63.9 230.0h0M55.5 232.1h0M62.9 240.7h0M41.3 238.9h0M37.5 240.2h0M60.7 230.2h0M58.2 230.0h0M64.4 231.6h0M36.4 241.1h0M56.5 239.4h0M59.1 230.3h0M65.5 230.2h0M65.8 227.1h0M63.5 230.7h0M35.6 240.4h0M41.0 239.7h0M38.7 239.1h0M42.0 237.7h0M36.8 240.8h0M54.8 236.2h0M55.7 233.1h0M56.2 238.9h0M46.6 238.8h0M52.0 238.0h0M32.6 240.2h0M45.8 239.1h0M36.1 239.3h0M42.1 240.1h0M35.7 239.3h0M52.9 234.3h0M65.7 239.1h0M56.9 240.0h0M63.6 226.0h0M48.9 237.8h0M55.3 237.8h0M59.4 231.7h0M58.0 230.9h0M41.3 240.1h0M55.5 234.6h0M50.6 237.6h0M62.6 236.7h0M60.0 232.3h0M49.9 236.6h0M54.9 234.3h0M64.7 228.2h0M45.2 236.9h0M46.7 236.0h0M62.6 229.9h0M46.6 237.0h0M49.4 235.4h0M41.7 240.7h0M44.8 241.2h0M53.4 234.5h0M52.7 235.8h0M36.4 240.9h0M62.1 239.5h0M53.9 233.6h0M62.3 227.4h0M63.2 229.8h0M45.8 239.7h0M52.7 234.0h0M56.6 235.1h0M48.2 237.0h0M50.5 236.3h0M62.8 227.4h0M41.3 238.3h0M48.8 238.7h0M55.0 240.9h0M31.8 239.5h0M45.2 239.4h0M49.0 239.1h0M51.3 239.6h0M49.5 241.0h0M45.9 238.4h0M41.9 240.0h0M41.5 238.0h0M35.8 239.9h0M53.0 237.9h0M56.2 240.8h0M41.0 238.1h0M54.8 238.3h0M56.7 235.4h0M64.1 230.4h0M64.1 234.0h0M61.1 236.9h0M58.3 237.9h0M40.8 238.8h0M65.0 234.5h0M35.7 239.4h0M50.9 238.1h0M33.8 240.2h0M64.2 228.5h0M52.9 238.0h0M52.8 241.0h0M63.2 237.3h0M48.9 238.4h0M45.4 238.2h0M37.3 238.5h0M37.6 240.3h0M52.1 234.2h0M36.3 240.7h0M46.6 239.0h0M63.1 240.4h0M46.3 237.0h0M48.8 241.1h0M57.0 234.0h0M36.4 240.6h0M53.5 238.4h0M52.9 233.7h0M58.0 230.0h0M45.7 237.0h0M47.7 237.4h0M39.9 238.2h0M47.3 235.9h0M53.3 233.4h0M58.4 231.7h0M53.5 234.2h0M55.8 234.9h0M45.4 239.8h0M64.8 228.7h0M57.8 237.0h0M63.8 227.2h0M56.1 240.9h0M63.4 228.6h0" stroke="#d42a18" stroke-width="1.15" stroke-linecap="round" stroke-opacity="0.95" fill="none"/>
<rect x="20.60" y="189.60" width="78.40" height="52.60" fill="none" stroke="#333" stroke-width="0.9"/>
<line x1="43.60" y1="189.60" x2="43.60" y2="242.20" stroke="#333" stroke-width="0.9"/>
<line x1="43.60" y1="213.50" x2="99.00" y2="213.50" stroke="#333" stroke-width="0.9"/>
<text x="95.80" y="199.20" font-size="9.0" font-weight="normal" text-anchor="end" fill="#111" stroke="#111" stroke-width="0.4" textLength="25.40" lengthAdjust="spacingAndGlyphs">86.8%</text>
<text x="69.60" y="218.90" font-size="6.0" font-weight="bold" text-anchor="start" fill="#333" stroke="#333" stroke-width="0.15" textLength="5.80" lengthAdjust="spacingAndGlyphs">P2</text>
<line x1="17.60" y1="241.70" x2="20.60" y2="241.70" stroke="#111" stroke-width="0.75"/>
<line x1="18.80" y1="239.70" x2="20.60" y2="239.70" stroke="#111" stroke-width="0.75"/>
<line x1="18.80" y1="237.70" x2="20.60" y2="237.70" stroke="#111" stroke-width="0.75"/>
<line x1="18.80" y1="235.70" x2="20.60" y2="235.70" stroke="#111" stroke-width="0.75"/>
<line x1="18.80" y1="233.70" x2="20.60" y2="233.70" stroke="#111" stroke-width="0.75"/>
<line x1="17.60" y1="231.70" x2="20.60" y2="231.70" stroke="#111" stroke-width="0.75"/>
<line x1="18.80" y1="229.70" x2="20.60" y2="229.70" stroke="#111" stroke-width="0.75"/>
<line x1="18.80" y1="227.70" x2="20.60" y2="227.70" stroke="#111" stroke-width="0.75"/>
<line x1="18.80" y1="225.70" x2="20.60" y2="225.70" stroke="#111" stroke-width="0.75"/>
<line x1="18.80" y1="223.70" x2="20.60" y2="223.70" stroke="#111" stroke-width="0.75"/>
<line x1="17.60" y1="221.70" x2="20.60" y2="221.70" stroke="#111" stroke-width="0.75"/>
<line x1="18.80" y1="219.70" x2="20.60" y2="219.70" stroke="#111" stroke-width="0.75"/>
<line x1="18.80" y1="217.70" x2="20.60" y2="217.70" stroke="#111" stroke-width="0.75"/>
<line x1="18.80" y1="215.70" x2="20.60" y2="215.70" stroke="#111" stroke-width="0.75"/>
<line x1="18.80" y1="213.70" x2="20.60" y2="213.70" stroke="#111" stroke-width="0.75"/>
<line x1="17.60" y1="211.70" x2="20.60" y2="211.70" stroke="#111" stroke-width="0.75"/>
<line x1="18.80" y1="209.70" x2="20.60" y2="209.70" stroke="#111" stroke-width="0.75"/>
<line x1="18.80" y1="207.70" x2="20.60" y2="207.70" stroke="#111" stroke-width="0.75"/>
<line x1="18.80" y1="205.70" x2="20.60" y2="205.70" stroke="#111" stroke-width="0.75"/>
<line x1="18.80" y1="203.70" x2="20.60" y2="203.70" stroke="#111" stroke-width="0.75"/>
<line x1="17.60" y1="201.70" x2="20.60" y2="201.70" stroke="#111" stroke-width="0.75"/>
<line x1="18.80" y1="199.70" x2="20.60" y2="199.70" stroke="#111" stroke-width="0.75"/>
<line x1="18.80" y1="197.70" x2="20.60" y2="197.70" stroke="#111" stroke-width="0.75"/>
<line x1="18.80" y1="195.70" x2="20.60" y2="195.70" stroke="#111" stroke-width="0.75"/>
<line x1="18.80" y1="193.70" x2="20.60" y2="193.70" stroke="#111" stroke-width="0.75"/>
<line x1="17.60" y1="191.70" x2="20.60" y2="191.70" stroke="#111" stroke-width="0.75"/>
<text x="15.50" y="231.70" font-size="4.8" font-weight="normal" text-anchor="middle" fill="#111" stroke="#111" stroke-width="0.4" transform="rotate(-90 15.50 231.70)">50</text>
<text x="15.50" y="221.70" font-size="4.8" font-weight="normal" text-anchor="middle" fill="#111" stroke="#111" stroke-width="0.4" transform="rotate(-90 15.50 221.70)">100</text>
<text x="15.50" y="211.70" font-size="4.8" font-weight="normal" text-anchor="middle" fill="#111" stroke="#111" stroke-width="0.4" transform="rotate(-90 15.50 211.70)">150</text>
<text x="15.50" y="201.70" font-size="4.8" font-weight="normal" text-anchor="middle" fill="#111" stroke="#111" stroke-width="0.4" transform="rotate(-90 15.50 201.70)">200</text>
<text x="15.50" y="193.20" font-size="4.8" font-weight="normal" text-anchor="middle" fill="#111" stroke="#111" stroke-width="0.4" transform="rotate(-90 15.50 193.20)">250</text>
<text x="8.70" y="225.80" font-size="6.6" font-weight="bold" text-anchor="start" fill="#111" stroke="#111" stroke-width="0.3" textLength="15.80" lengthAdjust="spacingAndGlyphs" transform="rotate(-90 8.70 225.80)">SSC-A</text>
<text x="7.90" y="202.20" font-size="4.2" font-weight="normal" text-anchor="start" fill="#444" stroke="#444" stroke-width="0.45" textLength="13.80" lengthAdjust="spacingAndGlyphs" transform="rotate(-90 7.90 202.20)">(1,000)</text>
<line x1="22.87" y1="242.20" x2="22.87" y2="244.60" stroke="#111" stroke-width="0.8"/>
<line x1="24.75" y1="242.20" x2="24.75" y2="244.60" stroke="#111" stroke-width="0.8"/>
<line x1="26.29" y1="242.20" x2="26.29" y2="244.60" stroke="#111" stroke-width="0.8"/>
<line x1="27.59" y1="242.20" x2="27.59" y2="244.60" stroke="#111" stroke-width="0.8"/>
<line x1="28.72" y1="242.20" x2="28.72" y2="244.60" stroke="#111" stroke-width="0.8"/>
<line x1="29.71" y1="242.20" x2="29.71" y2="244.60" stroke="#111" stroke-width="0.8"/>
<line x1="30.60" y1="242.20" x2="30.60" y2="246.20" stroke="#111" stroke-width="0.8"/>
<line x1="36.45" y1="242.20" x2="36.45" y2="244.60" stroke="#111" stroke-width="0.8"/>
<line x1="39.87" y1="242.20" x2="39.87" y2="244.60" stroke="#111" stroke-width="0.8"/>
<line x1="42.30" y1="242.20" x2="42.30" y2="244.60" stroke="#111" stroke-width="0.8"/>
<line x1="44.18" y1="242.20" x2="44.18" y2="244.60" stroke="#111" stroke-width="0.8"/>
<line x1="45.72" y1="242.20" x2="45.72" y2="244.60" stroke="#111" stroke-width="0.8"/>
<line x1="47.02" y1="242.20" x2="47.02" y2="244.60" stroke="#111" stroke-width="0.8"/>
<line x1="48.15" y1="242.20" x2="48.15" y2="244.60" stroke="#111" stroke-width="0.8"/>
<line x1="49.14" y1="242.20" x2="49.14" y2="244.60" stroke="#111" stroke-width="0.8"/>
<line x1="50.03" y1="242.20" x2="50.03" y2="246.20" stroke="#111" stroke-width="0.8"/>
<line x1="55.88" y1="242.20" x2="55.88" y2="244.60" stroke="#111" stroke-width="0.8"/>
<line x1="59.31" y1="242.20" x2="59.31" y2="244.60" stroke="#111" stroke-width="0.8"/>
<line x1="61.73" y1="242.20" x2="61.73" y2="244.60" stroke="#111" stroke-width="0.8"/>
<line x1="63.62" y1="242.20" x2="63.62" y2="244.60" stroke="#111" stroke-width="0.8"/>
<line x1="65.16" y1="242.20" x2="65.16" y2="244.60" stroke="#111" stroke-width="0.8"/>
<line x1="66.46" y1="242.20" x2="66.46" y2="244.60" stroke="#111" stroke-width="0.8"/>
<line x1="67.58" y1="242.20" x2="67.58" y2="244.60" stroke="#111" stroke-width="0.8"/>
<line x1="68.58" y1="242.20" x2="68.58" y2="244.60" stroke="#111" stroke-width="0.8"/>
<line x1="69.47" y1="242.20" x2="69.47" y2="246.20" stroke="#111" stroke-width="0.8"/>
<line x1="75.32" y1="242.20" x2="75.32" y2="244.60" stroke="#111" stroke-width="0.8"/>
<line x1="78.74" y1="242.20" x2="78.74" y2="244.60" stroke="#111" stroke-width="0.8"/>
<line x1="81.17" y1="242.20" x2="81.17" y2="244.60" stroke="#111" stroke-width="0.8"/>
<line x1="83.05" y1="242.20" x2="83.05" y2="244.60" stroke="#111" stroke-width="0.8"/>
<line x1="84.59" y1="242.20" x2="84.59" y2="244.60" stroke="#111" stroke-width="0.8"/>
<line x1="85.89" y1="242.20" x2="85.89" y2="244.60" stroke="#111" stroke-width="0.8"/>
<line x1="87.02" y1="242.20" x2="87.02" y2="244.60" stroke="#111" stroke-width="0.8"/>
<line x1="88.01" y1="242.20" x2="88.01" y2="244.60" stroke="#111" stroke-width="0.8"/>
<line x1="88.90" y1="242.20" x2="88.90" y2="246.20" stroke="#111" stroke-width="0.8"/>
<line x1="94.75" y1="242.20" x2="94.75" y2="244.60" stroke="#111" stroke-width="0.8"/>
<line x1="98.17" y1="242.20" x2="98.17" y2="244.60" stroke="#111" stroke-width="0.8"/>
<text x="29.40" y="255.40" font-size="5.4" font-weight="normal" text-anchor="middle" fill="#333" stroke="#333" stroke-width="0.45">10</text>
<text x="32.40" y="252.20" font-size="3.6" font-weight="normal" text-anchor="start" fill="#333" stroke="#333" stroke-width="0.45">2</text>
<text x="49.60" y="255.40" font-size="5.4" font-weight="normal" text-anchor="middle" fill="#333" stroke="#333" stroke-width="0.45">10</text>
<text x="52.60" y="252.20" font-size="3.6" font-weight="normal" text-anchor="start" fill="#333" stroke="#333" stroke-width="0.45">3</text>
<text x="68.60" y="255.40" font-size="5.4" font-weight="normal" text-anchor="middle" fill="#333" stroke="#333" stroke-width="0.45">10</text>
<text x="71.60" y="252.20" font-size="3.6" font-weight="normal" text-anchor="start" fill="#333" stroke="#333" stroke-width="0.45">4</text>
<text x="87.70" y="255.40" font-size="5.4" font-weight="normal" text-anchor="middle" fill="#333" stroke="#333" stroke-width="0.45">10</text>
<text x="90.70" y="252.20" font-size="3.6" font-weight="normal" text-anchor="start" fill="#333" stroke="#333" stroke-width="0.45">5</text>
<defs>
<pattern id="dots" width="2.5" height="2.4" patternUnits="userSpaceOnUse">
<rect width="2.5" height="2.4" fill="#eeeeee"/>
<circle cx="0.65" cy="0.6" r="0.65" fill="#444"/>
<circle cx="1.9" cy="1.8" r="0.55" fill="#7a7a7a"/>
</pattern>
</defs>
<text x="148.80" y="38.70" font-size="10.2" font-weight="normal" text-anchor="start" fill="#111" stroke="#111" stroke-width="0.45" textLength="42.30" lengthAdjust="spacingAndGlyphs">LSK cells</text>
<rect x="150.00" y="42.50" width="159.60" height="173.90" fill="none" stroke="#222" stroke-width="0.9"/>
<line x1="150.00" y1="42.10" x2="150.00" y2="216.90" stroke="#111" stroke-width="1.4"/>
<line x1="149.50" y1="216.40" x2="310.00" y2="216.40" stroke="#111" stroke-width="1.4"/>
<line x1="146.40" y1="216.40" x2="150.00" y2="216.40" stroke="#111" stroke-width="1.0"/>
<text x="143.40" y="219.70" font-size="9.3" font-weight="normal" text-anchor="end" fill="#111" stroke="#111" stroke-width="0.45">0</text>
<line x1="146.40" y1="187.42" x2="150.00" y2="187.42" stroke="#111" stroke-width="1.0"/>
<text x="143.40" y="190.72" font-size="9.3" font-weight="normal" text-anchor="end" fill="#111" stroke="#111" stroke-width="0.45">20</text>
<line x1="146.40" y1="158.43" x2="150.00" y2="158.43" stroke="#111" stroke-width="1.0"/>
<text x="143.40" y="161.73" font-size="9.3" font-weight="normal" text-anchor="end" fill="#111" stroke="#111" stroke-width="0.45">40</text>
<line x1="146.40" y1="129.45" x2="150.00" y2="129.45" stroke="#111" stroke-width="1.0"/>
<text x="143.40" y="132.75" font-size="9.3" font-weight="normal" text-anchor="end" fill="#111" stroke="#111" stroke-width="0.45">60</text>
<line x1="146.40" y1="100.47" x2="150.00" y2="100.47" stroke="#111" stroke-width="1.0"/>
<text x="143.40" y="103.77" font-size="9.3" font-weight="normal" text-anchor="end" fill="#111" stroke="#111" stroke-width="0.45">80</text>
<line x1="146.40" y1="71.48" x2="150.00" y2="71.48" stroke="#111" stroke-width="1.0"/>
<text x="143.40" y="74.78" font-size="9.3" font-weight="normal" text-anchor="end" fill="#111" stroke="#111" stroke-width="0.45">100</text>
<line x1="146.40" y1="42.50" x2="150.00" y2="42.50" stroke="#111" stroke-width="1.0"/>
<text x="143.40" y="45.80" font-size="9.3" font-weight="normal" text-anchor="end" fill="#111" stroke="#111" stroke-width="0.45">120</text>
<text x="125.40" y="129.50" font-size="10.6" font-weight="bold" text-anchor="middle" fill="#111" stroke="#111" stroke-width="0.15" textLength="75.00" lengthAdjust="spacingAndGlyphs" transform="rotate(-90 125.40 129.50)">Colony number</text>
<rect x="166.60" y="181.62" width="21.00" height="34.78" fill="#fff" stroke="#111" stroke-width="1.3"/>
<line x1="177.10" y1="177.85" x2="177.10" y2="185.53" stroke="#111" stroke-width="1.2"/>
<line x1="173.50" y1="177.85" x2="180.70" y2="177.85" stroke="#111" stroke-width="1.2"/>
<line x1="173.50" y1="185.53" x2="180.70" y2="185.53" stroke="#111" stroke-width="1.2"/>
<rect x="218.60" y="54.24" width="23.00" height="162.16" fill="#000" stroke="none" stroke-width="1"/>
<line x1="230.10" y1="51.19" x2="230.10" y2="54.24" stroke="#111" stroke-width="1.2"/>
<line x1="226.50" y1="51.19" x2="233.70" y2="51.19" stroke="#111" stroke-width="1.2"/>
<line x1="226.50" y1="54.24" x2="233.70" y2="54.24" stroke="#111" stroke-width="1.2"/>
<text x="226.90" y="52.20" font-size="10" font-weight="bold" text-anchor="middle" fill="#111" stroke="#111" stroke-width="0.15">*</text>
<text x="232.30" y="52.20" font-size="10" font-weight="bold" text-anchor="middle" fill="#111" stroke="#111" stroke-width="0.15">*</text>
<rect x="272.30" y="155.39" width="21.40" height="61.01" fill="url(#dots)" stroke="#111" stroke-width="1.3"/>
<line x1="283.00" y1="152.20" x2="283.00" y2="158.43" stroke="#111" stroke-width="1.2"/>
<line x1="279.40" y1="152.20" x2="286.60" y2="152.20" stroke="#111" stroke-width="1.2"/>
<line x1="279.40" y1="158.43" x2="286.60" y2="158.43" stroke="#111" stroke-width="1.2"/>
<text x="280.30" y="150.10" font-size="10" font-weight="bold" text-anchor="middle" fill="#111" stroke="#111" stroke-width="0.15">*</text>
<text x="285.70" y="150.10" font-size="10" font-weight="bold" text-anchor="middle" fill="#111" stroke="#111" stroke-width="0.15">*</text>
<text x="177.00" y="230.00" font-size="9.0" font-weight="normal" text-anchor="middle" fill="#111" stroke="#111" stroke-width="0.45" textLength="21.80" lengthAdjust="spacingAndGlyphs">Mock</text>
<text x="227.80" y="229.60" font-size="9.0" font-weight="normal" text-anchor="middle" fill="#111" stroke="#111" stroke-width="0.45" textLength="12.40" lengthAdjust="spacingAndGlyphs">&#8722;/&#8722;</text>
<text x="284.50" y="229.60" font-size="9.0" font-weight="normal" text-anchor="middle" fill="#111" stroke="#111" stroke-width="0.45" textLength="13.00" lengthAdjust="spacingAndGlyphs">+/&#8722;</text>
<text x="359.80" y="40.20" font-size="9.8" font-weight="normal" text-anchor="start" fill="#111" stroke="#111" stroke-width="0.45" textLength="102.70" lengthAdjust="spacingAndGlyphs">lin<tspan font-size="6" dy="-3.5">&#8722;</tspan><tspan dy="3.5">, Sca-1</tspan><tspan font-size="6" dy="-3.5">&#8722;</tspan><tspan dy="3.5">, c-kit</tspan><tspan font-size="6" dy="-3.5">+</tspan><tspan dy="3.5"> cells</tspan></text>
<line x1="358.20" y1="44.40" x2="519.00" y2="44.40" stroke="#222" stroke-width="1.1"/>
<line x1="519.00" y1="44.40" x2="519.00" y2="218.90" stroke="#222" stroke-width="1.1"/>
<line x1="358.20" y1="43.90" x2="358.20" y2="218.90" stroke="#8a8a8a" stroke-width="1.3"/>
<line x1="357.60" y1="218.90" x2="519.50" y2="218.90" stroke="#111" stroke-width="1.4"/>
<line x1="354.60" y1="218.90" x2="358.20" y2="218.90" stroke="#777" stroke-width="1.0"/>
<text x="351.80" y="222.20" font-size="9.3" font-weight="normal" text-anchor="end" fill="#111" stroke="#111" stroke-width="0.45">0</text>
<line x1="354.60" y1="189.82" x2="358.20" y2="189.82" stroke="#777" stroke-width="1.0"/>
<text x="351.80" y="193.12" font-size="9.3" font-weight="normal" text-anchor="end" fill="#111" stroke="#111" stroke-width="0.45">20</text>
<line x1="354.60" y1="160.73" x2="358.20" y2="160.73" stroke="#777" stroke-width="1.0"/>
<text x="351.80" y="164.03" font-size="9.3" font-weight="normal" text-anchor="end" fill="#111" stroke="#111" stroke-width="0.45">40</text>
<line x1="354.60" y1="131.65" x2="358.20" y2="131.65" stroke="#777" stroke-width="1.0"/>
<text x="351.80" y="134.95" font-size="9.3" font-weight="normal" text-anchor="end" fill="#111" stroke="#111" stroke-width="0.45">60</text>
<line x1="354.60" y1="102.57" x2="358.20" y2="102.57" stroke="#777" stroke-width="1.0"/>
<text x="351.80" y="105.87" font-size="9.3" font-weight="normal" text-anchor="end" fill="#111" stroke="#111" stroke-width="0.45">80</text>
<line x1="354.60" y1="73.48" x2="358.20" y2="73.48" stroke="#777" stroke-width="1.0"/>
<text x="351.80" y="76.78" font-size="9.3" font-weight="normal" text-anchor="end" fill="#111" stroke="#111" stroke-width="0.45">100</text>
<line x1="354.60" y1="44.40" x2="358.20" y2="44.40" stroke="#777" stroke-width="1.0"/>
<text x="351.80" y="47.70" font-size="9.3" font-weight="normal" text-anchor="end" fill="#111" stroke="#111" stroke-width="0.45">120</text>
<text x="335.00" y="131.50" font-size="10.6" font-weight="bold" text-anchor="middle" fill="#111" stroke="#111" stroke-width="0.15" textLength="75.00" lengthAdjust="spacingAndGlyphs" transform="rotate(-90 335.00 131.50)">Colony number</text>
<rect x="375.80" y="65.49" width="20.80" height="153.41" fill="#fff" stroke="#111" stroke-width="1.3"/>
<line x1="386.20" y1="53.27" x2="386.20" y2="76.97" stroke="#111" stroke-width="1.2"/>
<line x1="382.60" y1="53.27" x2="389.80" y2="53.27" stroke="#111" stroke-width="1.2"/>
<line x1="382.60" y1="76.97" x2="389.80" y2="76.97" stroke="#111" stroke-width="1.2"/>
<rect x="428.00" y="84.39" width="22.60" height="134.51" fill="#000" stroke="none" stroke-width="1"/>
<line x1="439.30" y1="68.10" x2="439.30" y2="84.39" stroke="#111" stroke-width="1.2"/>
<line x1="435.70" y1="68.10" x2="442.90" y2="68.10" stroke="#111" stroke-width="1.2"/>
<line x1="435.70" y1="84.39" x2="442.90" y2="84.39" stroke="#111" stroke-width="1.2"/>
<rect x="481.90" y="100.82" width="21.80" height="118.08" fill="url(#dots)" stroke="#111" stroke-width="1.3"/>
<line x1="492.80" y1="97.62" x2="492.80" y2="103.44" stroke="#111" stroke-width="1.2"/>
<line x1="489.20" y1="97.62" x2="496.40" y2="97.62" stroke="#111" stroke-width="1.2"/>
<line x1="489.20" y1="103.44" x2="496.40" y2="103.44" stroke="#111" stroke-width="1.2"/>
<text x="490.10" y="94.50" font-size="10" font-weight="bold" text-anchor="middle" fill="#111" stroke="#111" stroke-width="0.15">*</text>
<text x="495.50" y="94.50" font-size="10" font-weight="bold" text-anchor="middle" fill="#111" stroke="#111" stroke-width="0.15">*</text>
<text x="386.50" y="231.00" font-size="9.0" font-weight="normal" text-anchor="middle" fill="#111" stroke="#111" stroke-width="0.45" textLength="21.80" lengthAdjust="spacingAndGlyphs">Mock</text>
<text x="439.00" y="230.60" font-size="9.0" font-weight="normal" text-anchor="middle" fill="#111" stroke="#111" stroke-width="0.45" textLength="12.40" lengthAdjust="spacingAndGlyphs">&#8722;/&#8722;</text>
<text x="492.80" y="230.60" font-size="9.0" font-weight="normal" text-anchor="middle" fill="#111" stroke="#111" stroke-width="0.45" textLength="13.00" lengthAdjust="spacingAndGlyphs">+/&#8722;</text>
<text x="145.00" y="284.60" font-size="9.2" font-weight="normal" text-anchor="start" fill="#111" stroke="#111" stroke-width="0.45" textLength="136.30" lengthAdjust="spacingAndGlyphs">LSD1 over-expressing mLSK cells</text>
<line x1="139.60" y1="289.50" x2="139.60" y2="483.30" stroke="#8a8a8a" stroke-width="1.2"/>
<line x1="139.60" y1="483.30" x2="403.00" y2="483.30" stroke="#8a8a8a" stroke-width="1.2"/>
<line x1="136.30" y1="483.30" x2="139.60" y2="483.30" stroke="#8a8a8a" stroke-width="0.9"/>
<text x="129.60" y="486.70" font-size="9.5" font-weight="bold" text-anchor="end" fill="#222" stroke="#222" stroke-width="0.15">0.0</text>
<line x1="136.30" y1="461.82" x2="139.60" y2="461.82" stroke="#8a8a8a" stroke-width="0.9"/>
<text x="129.60" y="465.22" font-size="9.5" font-weight="bold" text-anchor="end" fill="#222" stroke="#222" stroke-width="0.15">0.5</text>
<line x1="136.30" y1="440.34" x2="139.60" y2="440.34" stroke="#8a8a8a" stroke-width="0.9"/>
<text x="129.60" y="443.74" font-size="9.5" font-weight="bold" text-anchor="end" fill="#222" stroke="#222" stroke-width="0.15">1.0</text>
<line x1="136.30" y1="418.87" x2="139.60" y2="418.87" stroke="#8a8a8a" stroke-width="0.9"/>
<text x="129.60" y="422.27" font-size="9.5" font-weight="bold" text-anchor="end" fill="#222" stroke="#222" stroke-width="0.15">1.5</text>
<line x1="136.30" y1="397.39" x2="139.60" y2="397.39" stroke="#8a8a8a" stroke-width="0.9"/>
<text x="129.60" y="400.79" font-size="9.5" font-weight="bold" text-anchor="end" fill="#222" stroke="#222" stroke-width="0.15">2.0</text>
<line x1="136.30" y1="375.91" x2="139.60" y2="375.91" stroke="#8a8a8a" stroke-width="0.9"/>
<text x="129.60" y="379.31" font-size="9.5" font-weight="bold" text-anchor="end" fill="#222" stroke="#222" stroke-width="0.15">2.5</text>
<line x1="136.30" y1="354.43" x2="139.60" y2="354.43" stroke="#8a8a8a" stroke-width="0.9"/>
<text x="129.60" y="357.83" font-size="9.5" font-weight="bold" text-anchor="end" fill="#222" stroke="#222" stroke-width="0.15">3.0</text>
<line x1="136.30" y1="332.96" x2="139.60" y2="332.96" stroke="#8a8a8a" stroke-width="0.9"/>
<text x="129.60" y="336.36" font-size="9.5" font-weight="bold" text-anchor="end" fill="#222" stroke="#222" stroke-width="0.15">3.5</text>
<line x1="136.30" y1="311.48" x2="139.60" y2="311.48" stroke="#8a8a8a" stroke-width="0.9"/>
<text x="129.60" y="314.88" font-size="9.5" font-weight="bold" text-anchor="end" fill="#222" stroke="#222" stroke-width="0.15">4.0</text>
<line x1="136.30" y1="290.00" x2="139.60" y2="290.00" stroke="#8a8a8a" stroke-width="0.9"/>
<text x="129.60" y="293.40" font-size="9.5" font-weight="bold" text-anchor="end" fill="#222" stroke="#222" stroke-width="0.15">4.5</text>
<line x1="139.60" y1="483.30" x2="139.60" y2="486.50" stroke="#8a8a8a" stroke-width="0.9"/>
<line x1="172.52" y1="483.30" x2="172.52" y2="486.50" stroke="#8a8a8a" stroke-width="0.9"/>
<line x1="205.44" y1="483.30" x2="205.44" y2="486.50" stroke="#8a8a8a" stroke-width="0.9"/>
<line x1="238.36" y1="483.30" x2="238.36" y2="486.50" stroke="#8a8a8a" stroke-width="0.9"/>
<line x1="271.28" y1="483.30" x2="271.28" y2="486.50" stroke="#8a8a8a" stroke-width="0.9"/>
<line x1="304.20" y1="483.30" x2="304.20" y2="486.50" stroke="#8a8a8a" stroke-width="0.9"/>
<line x1="337.12" y1="483.30" x2="337.12" y2="486.50" stroke="#8a8a8a" stroke-width="0.9"/>
<line x1="370.04" y1="483.30" x2="370.04" y2="486.50" stroke="#8a8a8a" stroke-width="0.9"/>
<line x1="402.96" y1="483.30" x2="402.96" y2="486.50" stroke="#8a8a8a" stroke-width="0.9"/>
<text x="112.90" y="385.50" font-size="9.3" font-weight="bold" text-anchor="middle" fill="#111" stroke="#111" stroke-width="0.15" textLength="57.00" lengthAdjust="spacingAndGlyphs" transform="rotate(-90 112.90 385.50)">Fold increase</text>
<rect x="146.60" y="397.39" width="10.00" height="85.91" fill="#000" stroke="none" stroke-width="1"/>
<line x1="151.60" y1="394.38" x2="151.60" y2="397.39" stroke="#111" stroke-width="1.1"/>
<line x1="148.90" y1="394.38" x2="154.30" y2="394.38" stroke="#111" stroke-width="1.1"/>
<line x1="148.90" y1="397.39" x2="154.30" y2="397.39" stroke="#111" stroke-width="1.1"/>
<rect x="156.60" y="421.44" width="9.30" height="61.86" fill="url(#dots)" stroke="#111" stroke-width="0.9"/>
<line x1="161.20" y1="419.94" x2="161.20" y2="422.73" stroke="#111" stroke-width="1.1"/>
<line x1="158.70" y1="419.94" x2="163.70" y2="419.94" stroke="#111" stroke-width="1.1"/>
<line x1="158.70" y1="422.73" x2="163.70" y2="422.73" stroke="#111" stroke-width="1.1"/>
<text x="156.00" y="497.60" font-size="8.8" font-weight="normal" text-anchor="middle" fill="#111" stroke="#111" stroke-width="0.45">HoxA7</text>
<rect x="179.52" y="416.72" width="10.00" height="66.58" fill="#000" stroke="none" stroke-width="1"/>
<line x1="184.52" y1="414.57" x2="184.52" y2="416.72" stroke="#111" stroke-width="1.1"/>
<line x1="181.82" y1="414.57" x2="187.22" y2="414.57" stroke="#111" stroke-width="1.1"/>
<line x1="181.82" y1="416.72" x2="187.22" y2="416.72" stroke="#111" stroke-width="1.1"/>
<rect x="189.52" y="435.62" width="9.30" height="47.68" fill="url(#dots)" stroke="#111" stroke-width="0.9"/>
<line x1="194.12" y1="434.98" x2="194.12" y2="436.05" stroke="#111" stroke-width="1.1"/>
<line x1="191.62" y1="434.98" x2="196.62" y2="434.98" stroke="#111" stroke-width="1.1"/>
<line x1="191.62" y1="436.05" x2="196.62" y2="436.05" stroke="#111" stroke-width="1.1"/>
<text x="188.92" y="497.60" font-size="8.8" font-weight="normal" text-anchor="middle" fill="#111" stroke="#111" stroke-width="0.45">HoxA9</text>
<rect x="212.44" y="425.74" width="10.00" height="57.56" fill="#000" stroke="none" stroke-width="1"/>
<line x1="217.44" y1="418.44" x2="217.44" y2="425.74" stroke="#111" stroke-width="1.1"/>
<line x1="214.74" y1="418.44" x2="220.14" y2="418.44" stroke="#111" stroke-width="1.1"/>
<line x1="214.74" y1="425.74" x2="220.14" y2="425.74" stroke="#111" stroke-width="1.1"/>
<rect x="222.44" y="427.89" width="9.30" height="55.41" fill="url(#dots)" stroke="#111" stroke-width="0.9"/>
<line x1="227.04" y1="420.58" x2="227.04" y2="433.90" stroke="#111" stroke-width="1.1"/>
<line x1="224.54" y1="420.58" x2="229.54" y2="420.58" stroke="#111" stroke-width="1.1"/>
<line x1="224.54" y1="433.90" x2="229.54" y2="433.90" stroke="#111" stroke-width="1.1"/>
<text x="221.84" y="497.60" font-size="8.8" font-weight="normal" text-anchor="middle" fill="#111" stroke="#111" stroke-width="0.45">HoxB4</text>
<rect x="245.36" y="353.57" width="10.00" height="129.73" fill="#000" stroke="none" stroke-width="1"/>
<line x1="250.36" y1="350.57" x2="250.36" y2="353.57" stroke="#111" stroke-width="1.1"/>
<line x1="247.66" y1="350.57" x2="253.06" y2="350.57" stroke="#111" stroke-width="1.1"/>
<line x1="247.66" y1="353.57" x2="253.06" y2="353.57" stroke="#111" stroke-width="1.1"/>
<rect x="255.36" y="409.42" width="9.30" height="73.88" fill="url(#dots)" stroke="#111" stroke-width="0.9"/>
<line x1="259.96" y1="406.41" x2="259.96" y2="412.42" stroke="#111" stroke-width="1.1"/>
<line x1="257.46" y1="406.41" x2="262.46" y2="406.41" stroke="#111" stroke-width="1.1"/>
<line x1="257.46" y1="412.42" x2="262.46" y2="412.42" stroke="#111" stroke-width="1.1"/>
<text x="254.76" y="497.60" font-size="8.8" font-weight="normal" text-anchor="middle" fill="#111" stroke="#111" stroke-width="0.45">Meis1</text>
<rect x="278.28" y="415.00" width="10.00" height="68.30" fill="#000" stroke="none" stroke-width="1"/>
<line x1="283.28" y1="413.28" x2="283.28" y2="415.00" stroke="#111" stroke-width="1.1"/>
<line x1="280.58" y1="413.28" x2="285.98" y2="413.28" stroke="#111" stroke-width="1.1"/>
<line x1="280.58" y1="415.00" x2="285.98" y2="415.00" stroke="#111" stroke-width="1.1"/>
<rect x="288.28" y="435.19" width="9.30" height="48.11" fill="url(#dots)" stroke="#111" stroke-width="0.9"/>
<line x1="292.88" y1="434.76" x2="292.88" y2="435.62" stroke="#111" stroke-width="1.1"/>
<line x1="290.38" y1="434.76" x2="295.38" y2="434.76" stroke="#111" stroke-width="1.1"/>
<line x1="290.38" y1="435.62" x2="295.38" y2="435.62" stroke="#111" stroke-width="1.1"/>
<text x="287.68" y="497.60" font-size="8.8" font-weight="normal" text-anchor="middle" fill="#111" stroke="#111" stroke-width="0.45">Cxcr4</text>
<rect x="311.20" y="401.25" width="10.00" height="82.05" fill="#000" stroke="none" stroke-width="1"/>
<line x1="316.20" y1="386.65" x2="316.20" y2="401.25" stroke="#111" stroke-width="1.1"/>
<line x1="313.50" y1="386.65" x2="318.90" y2="386.65" stroke="#111" stroke-width="1.1"/>
<line x1="313.50" y1="401.25" x2="318.90" y2="401.25" stroke="#111" stroke-width="1.1"/>
<rect x="321.20" y="414.57" width="9.30" height="68.73" fill="url(#dots)" stroke="#111" stroke-width="0.9"/>
<line x1="325.80" y1="411.56" x2="325.80" y2="416.29" stroke="#111" stroke-width="1.1"/>
<line x1="323.30" y1="411.56" x2="328.30" y2="411.56" stroke="#111" stroke-width="1.1"/>
<line x1="323.30" y1="416.29" x2="328.30" y2="416.29" stroke="#111" stroke-width="1.1"/>
<text x="320.60" y="497.60" font-size="8.8" font-weight="normal" text-anchor="middle" fill="#111" stroke="#111" stroke-width="0.45">Bml1</text>
<rect x="344.12" y="303.75" width="10.00" height="179.55" fill="#000" stroke="none" stroke-width="1"/>
<line x1="349.12" y1="298.16" x2="349.12" y2="303.75" stroke="#111" stroke-width="1.1"/>
<line x1="346.42" y1="298.16" x2="351.82" y2="298.16" stroke="#111" stroke-width="1.1"/>
<line x1="346.42" y1="303.75" x2="351.82" y2="303.75" stroke="#111" stroke-width="1.1"/>
<rect x="354.12" y="414.57" width="9.30" height="68.73" fill="url(#dots)" stroke="#111" stroke-width="0.9"/>
<line x1="358.72" y1="411.56" x2="358.72" y2="416.72" stroke="#111" stroke-width="1.1"/>
<line x1="356.22" y1="411.56" x2="361.22" y2="411.56" stroke="#111" stroke-width="1.1"/>
<line x1="356.22" y1="416.72" x2="361.22" y2="416.72" stroke="#111" stroke-width="1.1"/>
<text x="353.52" y="497.60" font-size="8.8" font-weight="normal" text-anchor="middle" fill="#111" stroke="#111" stroke-width="0.45">Gfi1b</text>
<rect x="377.04" y="383.64" width="10.00" height="99.66" fill="#000" stroke="none" stroke-width="1"/>
<line x1="382.04" y1="381.07" x2="382.04" y2="383.64" stroke="#111" stroke-width="1.1"/>
<line x1="379.34" y1="381.07" x2="384.74" y2="381.07" stroke="#111" stroke-width="1.1"/>
<line x1="379.34" y1="383.64" x2="384.74" y2="383.64" stroke="#111" stroke-width="1.1"/>
<rect x="387.04" y="410.28" width="9.30" height="73.02" fill="url(#dots)" stroke="#111" stroke-width="0.9"/>
<line x1="391.64" y1="408.56" x2="391.64" y2="411.99" stroke="#111" stroke-width="1.1"/>
<line x1="389.14" y1="408.56" x2="394.14" y2="408.56" stroke="#111" stroke-width="1.1"/>
<line x1="389.14" y1="411.99" x2="394.14" y2="411.99" stroke="#111" stroke-width="1.1"/>
<text x="386.44" y="497.60" font-size="8.8" font-weight="normal" text-anchor="middle" fill="#111" stroke="#111" stroke-width="0.45">Myb</text>
<path d="M150.80 390.30 V384.20 H161.10 V413.80" stroke="#111" stroke-width="1.3" fill="none"/>
<text x="155.50" y="385.70" font-size="10" font-weight="bold" text-anchor="middle" fill="#111" stroke="#111" stroke-width="0.15">*</text>
<path d="M183.72 411.00 V402.80 H194.02 V430.00" stroke="#111" stroke-width="1.3" fill="none"/>
<text x="188.00" y="404.50" font-size="10" font-weight="bold" text-anchor="middle" fill="#111" stroke="#111" stroke-width="0.15">*</text>
<path d="M249.56 346.30 V339.30 H259.86 V397.50" stroke="#111" stroke-width="1.3" fill="none"/>
<text x="253.80" y="341.30" font-size="10" font-weight="bold" text-anchor="middle" fill="#111" stroke="#111" stroke-width="0.15">*</text>
<path d="M282.48 408.00 V400.50 H292.78 V429.50" stroke="#111" stroke-width="1.3" fill="none"/>
<text x="287.50" y="401.00" font-size="10" font-weight="bold" text-anchor="middle" fill="#111" stroke="#111" stroke-width="0.15">*</text>
<path d="M348.32 292.50 V285.80 H358.62 V402.50" stroke="#111" stroke-width="1.3" fill="none"/>
<text x="352.50" y="287.50" font-size="10" font-weight="bold" text-anchor="middle" fill="#111" stroke="#111" stroke-width="0.15">*</text>
<path d="M381.24 375.00 V368.00 H391.54 V400.50" stroke="#111" stroke-width="1.3" fill="none"/>
<text x="386.30" y="370.00" font-size="10" font-weight="bold" text-anchor="middle" fill="#111" stroke="#111" stroke-width="0.15">*</text>
<rect x="380.90" y="290.70" width="5.50" height="5.40" fill="#000" stroke="none" stroke-width="1"/>
<text x="387.50" y="296.40" font-size="9.0" font-weight="normal" text-anchor="start" fill="#111" stroke="#111" stroke-width="0.5" textLength="13.40" lengthAdjust="spacingAndGlyphs">&#8211;/&#8211;</text>
<rect x="381.40" y="305.00" width="4.60" height="4.50" fill="url(#dots)" stroke="#111" stroke-width="1.0"/>
<text x="387.50" y="310.40" font-size="9.0" font-weight="normal" text-anchor="start" fill="#111" stroke="#111" stroke-width="0.5" textLength="13.40" lengthAdjust="spacingAndGlyphs">+/&#8211;</text>
<text x="27.20" y="528.10" font-size="9.8" font-weight="bold" text-anchor="start" fill="#111" stroke="#111" stroke-width="0.35" textLength="77.30" lengthAdjust="spacingAndGlyphs">BMT mice (10M)</text>
<text x="27.20" y="539.80" font-size="9.8" font-weight="bold" text-anchor="start" fill="#111" stroke="#111" stroke-width="0.35" textLength="77.30" lengthAdjust="spacingAndGlyphs">Control, &#8722;/&#8722;, +/&#8722;</text>
<path d="M35.6 574.8 C36.3 562 46 554.3 59.2 553.4" stroke="#111" stroke-width="1.6" fill="none"/>
<path d="M74.2 557.6 C79.2 561.5 83.2 567.5 84.4 574.8 H35.3" stroke="#111" stroke-width="1.6" fill="none"/>
<circle cx="71.6" cy="555.4" r="5.0" fill="#fff" stroke="#111" stroke-width="1.5"/>
<path d="M69.0 550.9 C72.2 551.3 74.3 553.6 74.9 556.6" stroke="#111" stroke-width="1.1" fill="none"/>
<circle cx="65.2" cy="556.7" r="6.3" fill="#fff" stroke="#111" stroke-width="1.6"/>
<path d="M28.6 559.6 C28.4 565 31 569.2 35.7 570.9" stroke="#111" stroke-width="1.5" fill="none"/>
<circle cx="75.8" cy="566.9" r="1.0" fill="#111"/>
<line x1="93.10" y1="565.00" x2="115.80" y2="565.00" stroke="#111" stroke-width="1.7"/>
<path d="M109.10 560.10 L116.30 565.00 L109.10 569.90" stroke="#111" stroke-width="1.6" fill="none"/>
<line x1="192.70" y1="565.80" x2="215.40" y2="565.80" stroke="#111" stroke-width="1.7"/>
<path d="M208.70 560.90 L215.90 565.80 L208.70 570.70" stroke="#111" stroke-width="1.6" fill="none"/>
<line x1="274.60" y1="566.20" x2="296.70" y2="566.20" stroke="#111" stroke-width="1.7"/>
<path d="M290.00 561.30 L297.20 566.20 L290.00 571.10" stroke="#111" stroke-width="1.6" fill="none"/>
<line x1="352.50" y1="566.20" x2="375.80" y2="566.20" stroke="#111" stroke-width="1.7"/>
<path d="M369.10 561.30 L376.30 566.20 L369.10 571.10" stroke="#111" stroke-width="1.6" fill="none"/>
<circle cx="143.7" cy="558.3" r="3.0" fill="#d4d4d4" stroke="#111" stroke-width="1.6"/>
<circle cx="153.8" cy="554.4" r="3.0" fill="#d4d4d4" stroke="#111" stroke-width="1.6"/>
<circle cx="171.5" cy="559.2" r="3.0" fill="#d4d4d4" stroke="#111" stroke-width="1.6"/>
<circle cx="136.0" cy="569.2" r="3.0" fill="#d4d4d4" stroke="#111" stroke-width="1.6"/>
<circle cx="158.5" cy="567.3" r="3.0" fill="#d4d4d4" stroke="#111" stroke-width="1.6"/>
<circle cx="148.1" cy="575.6" r="3.0" fill="#d4d4d4" stroke="#111" stroke-width="1.6"/>
<circle cx="171.2" cy="574.2" r="3.0" fill="#d4d4d4" stroke="#111" stroke-width="1.6"/>
<text x="155.70" y="594.00" font-size="9.9" font-weight="normal" text-anchor="middle" fill="#111" stroke="#111" stroke-width="0.45" textLength="38.40" lengthAdjust="spacingAndGlyphs">BM cells</text>
<path d="M227.60 562.6 V567.4 A17.70 2.2 0 0 0 263.00 567.4 V562.6" stroke="#111" stroke-width="1.5" fill="#fff"/>
<ellipse cx="245.30" cy="562.7" rx="17.70" ry="1.8" fill="#fff" stroke="#111" stroke-width="1.4"/>
<path d="M303.60 562.6 V567.4 A18.00 2.2 0 0 0 339.60 567.4 V562.6" stroke="#111" stroke-width="1.5" fill="#fff"/>
<ellipse cx="321.60" cy="562.7" rx="18.00" ry="1.8" fill="#fff" stroke="#111" stroke-width="1.4"/>
<path d="M382.60 562.6 V567.4 A18.20 2.2 0 0 0 419.00 567.4 V562.6" stroke="#111" stroke-width="1.5" fill="#fff"/>
<ellipse cx="400.80" cy="562.7" rx="18.20" ry="1.8" fill="#fff" stroke="#111" stroke-width="1.4"/>
<text x="246.10" y="553.60" font-size="10.6" font-weight="bold" text-anchor="middle" fill="#111" stroke="#111" stroke-width="0.35" textLength="17.80" lengthAdjust="spacingAndGlyphs">1st</text>
<text x="323.30" y="553.60" font-size="10.6" font-weight="bold" text-anchor="middle" fill="#111" stroke="#111" stroke-width="0.35" textLength="21.60" lengthAdjust="spacingAndGlyphs">2nd</text>
<text x="400.30" y="553.60" font-size="10.6" font-weight="bold" text-anchor="middle" fill="#111" stroke="#111" stroke-width="0.35" textLength="19.40" lengthAdjust="spacingAndGlyphs">3rd</text>
<text x="245.40" y="587.80" font-size="9.4" font-weight="normal" text-anchor="middle" fill="#111" stroke="#111" stroke-width="0.45" textLength="28.40" lengthAdjust="spacingAndGlyphs">mSCF</text>
<text x="245.40" y="599.30" font-size="9.4" font-weight="normal" text-anchor="middle" fill="#111" stroke="#111" stroke-width="0.45" textLength="9.90" lengthAdjust="spacingAndGlyphs">FL</text>
<text x="245.30" y="609.60" font-size="9.4" font-weight="normal" text-anchor="middle" fill="#111" stroke="#111" stroke-width="0.45" textLength="26.50" lengthAdjust="spacingAndGlyphs">mIL-3</text>
<text x="68.20" y="678.30" font-size="14" font-weight="bold" text-anchor="start" fill="#111" stroke="#111" stroke-width="0.15" textLength="4.30" lengthAdjust="spacingAndGlyphs">i</text>
<line x1="101.00" y1="681.00" x2="101.00" y2="882.30" stroke="#8a8a8a" stroke-width="1.1"/>
<line x1="101.00" y1="882.30" x2="310.60" y2="882.30" stroke="#8a8a8a" stroke-width="1.1"/>
<line x1="97.70" y1="882.30" x2="101.00" y2="882.30" stroke="#8a8a8a" stroke-width="0.9"/>
<text x="94.0" y="885.70" font-size="9.6" font-weight="bold" text-anchor="end" fill="#222" font-family='"Liberation Sans Narrow", "Liberation Sans", sans-serif'>0</text>
<line x1="97.70" y1="848.80" x2="101.00" y2="848.80" stroke="#8a8a8a" stroke-width="0.9"/>
<text x="94.0" y="852.20" font-size="9.6" font-weight="bold" text-anchor="end" fill="#222" font-family='"Liberation Sans Narrow", "Liberation Sans", sans-serif'>5</text>
<line x1="97.70" y1="815.30" x2="101.00" y2="815.30" stroke="#8a8a8a" stroke-width="0.9"/>
<text x="94.0" y="818.70" font-size="9.6" font-weight="bold" text-anchor="end" fill="#222" font-family='"Liberation Sans Narrow", "Liberation Sans", sans-serif'>10</text>
<line x1="97.70" y1="781.80" x2="101.00" y2="781.80" stroke="#8a8a8a" stroke-width="0.9"/>
<text x="94.0" y="785.20" font-size="9.6" font-weight="bold" text-anchor="end" fill="#222" font-family='"Liberation Sans Narrow", "Liberation Sans", sans-serif'>15</text>
<line x1="97.70" y1="748.30" x2="101.00" y2="748.30" stroke="#8a8a8a" stroke-width="0.9"/>
<text x="94.0" y="751.70" font-size="9.6" font-weight="bold" text-anchor="end" fill="#222" font-family='"Liberation Sans Narrow", "Liberation Sans", sans-serif'>20</text>
<line x1="97.70" y1="714.80" x2="101.00" y2="714.80" stroke="#8a8a8a" stroke-width="0.9"/>
<text x="94.0" y="718.20" font-size="9.6" font-weight="bold" text-anchor="end" fill="#222" font-family='"Liberation Sans Narrow", "Liberation Sans", sans-serif'>25</text>
<line x1="97.70" y1="681.30" x2="101.00" y2="681.30" stroke="#8a8a8a" stroke-width="0.9"/>
<text x="94.0" y="684.70" font-size="9.6" font-weight="bold" text-anchor="end" fill="#222" font-family='"Liberation Sans Narrow", "Liberation Sans", sans-serif'>30</text>
<line x1="101.00" y1="882.30" x2="101.00" y2="885.60" stroke="#8a8a8a" stroke-width="0.9"/>
<line x1="171.00" y1="882.30" x2="171.00" y2="885.60" stroke="#8a8a8a" stroke-width="0.9"/>
<line x1="241.00" y1="882.30" x2="241.00" y2="885.60" stroke="#8a8a8a" stroke-width="0.9"/>
<line x1="311.00" y1="882.30" x2="311.00" y2="885.60" stroke="#8a8a8a" stroke-width="0.9"/>
<text x="78.0" y="781.5" font-size="11" font-weight="bold" text-anchor="middle" fill="#111" transform="rotate(-90 78.0 781.5)" textLength="75" lengthAdjust="spacingAndGlyphs" font-family='"Liberation Sans Narrow", "Liberation Sans", sans-serif'>Colony number</text>
<rect x="113.20" y="766.39" width="15.40" height="115.91" fill="#fff" stroke="#111" stroke-width="1.1"/>
<line x1="121.00" y1="730.88" x2="121.00" y2="801.90" stroke="#111" stroke-width="1.3"/>
<line x1="118.00" y1="730.88" x2="124.00" y2="730.88" stroke="#111" stroke-width="1.3"/>
<line x1="118.00" y1="801.90" x2="124.00" y2="801.90" stroke="#111" stroke-width="1.3"/>
<rect x="128.60" y="738.92" width="15.60" height="143.38" fill="#000" stroke="none" stroke-width="1"/>
<line x1="136.40" y1="716.81" x2="136.40" y2="738.92" stroke="#111" stroke-width="1.3"/>
<line x1="133.40" y1="716.81" x2="139.40" y2="716.81" stroke="#111" stroke-width="1.3"/>
<line x1="133.40" y1="738.92" x2="139.40" y2="738.92" stroke="#111" stroke-width="1.3"/>
<rect x="144.20" y="775.10" width="15.40" height="107.20" fill="url(#dots)" stroke="#111" stroke-width="1.0"/>
<line x1="151.90" y1="741.60" x2="151.90" y2="808.60" stroke="#111" stroke-width="1.3"/>
<line x1="148.90" y1="741.60" x2="154.90" y2="741.60" stroke="#111" stroke-width="1.3"/>
<line x1="148.90" y1="808.60" x2="154.90" y2="808.60" stroke="#111" stroke-width="1.3"/>
<rect x="183.20" y="841.70" width="15.40" height="40.60" fill="#fff" stroke="#111" stroke-width="1.1"/>
<line x1="191.00" y1="836.07" x2="191.00" y2="847.46" stroke="#111" stroke-width="1.3"/>
<line x1="188.00" y1="836.07" x2="194.00" y2="836.07" stroke="#111" stroke-width="1.3"/>
<line x1="188.00" y1="847.46" x2="194.00" y2="847.46" stroke="#111" stroke-width="1.3"/>
<rect x="198.60" y="774.70" width="15.60" height="107.60" fill="#000" stroke="none" stroke-width="1"/>
<line x1="206.40" y1="756.00" x2="206.40" y2="774.70" stroke="#111" stroke-width="1.3"/>
<line x1="203.40" y1="756.00" x2="209.40" y2="756.00" stroke="#111" stroke-width="1.3"/>
<line x1="203.40" y1="774.70" x2="209.40" y2="774.70" stroke="#111" stroke-width="1.3"/>
<rect x="214.20" y="839.42" width="15.40" height="42.88" fill="url(#dots)" stroke="#111" stroke-width="1.0"/>
<line x1="221.90" y1="828.70" x2="221.90" y2="850.14" stroke="#111" stroke-width="1.3"/>
<line x1="218.90" y1="828.70" x2="224.90" y2="828.70" stroke="#111" stroke-width="1.3"/>
<line x1="218.90" y1="850.14" x2="224.90" y2="850.14" stroke="#111" stroke-width="1.3"/>
<rect x="268.60" y="828.70" width="15.60" height="53.60" fill="#000" stroke="none" stroke-width="1"/>
<line x1="276.40" y1="822.67" x2="276.40" y2="828.70" stroke="#111" stroke-width="1.3"/>
<line x1="273.40" y1="822.67" x2="279.40" y2="822.67" stroke="#111" stroke-width="1.3"/>
<line x1="273.40" y1="828.70" x2="279.40" y2="828.70" stroke="#111" stroke-width="1.3"/>
<rect x="284.20" y="877.61" width="15.40" height="4.69" fill="url(#dots)" stroke="#111" stroke-width="1.0"/>
<line x1="291.90" y1="874.26" x2="291.90" y2="880.96" stroke="#111" stroke-width="1.3"/>
<line x1="288.90" y1="874.26" x2="294.90" y2="874.26" stroke="#111" stroke-width="1.3"/>
<line x1="288.90" y1="880.96" x2="294.90" y2="880.96" stroke="#111" stroke-width="1.3"/>
<text x="136.90" y="898.20" font-size="10.0" font-weight="bold" text-anchor="middle" fill="#111" stroke="#111" stroke-width="0.1" textLength="12.60" lengthAdjust="spacingAndGlyphs">1st</text>
<text x="205.30" y="898.20" font-size="10.0" font-weight="bold" text-anchor="middle" fill="#111" stroke="#111" stroke-width="0.1" textLength="17.20" lengthAdjust="spacingAndGlyphs">2nd</text>
<text x="275.20" y="898.20" font-size="10.0" font-weight="bold" text-anchor="middle" fill="#111" stroke="#111" stroke-width="0.1" textLength="14.70" lengthAdjust="spacingAndGlyphs">3rd</text>
<path d="M189.4 823.7 V736.4 H205.3 V746.2" stroke="#111" stroke-width="1.3" fill="none"/>
<text x="198.80" y="733.10" font-size="10" font-weight="bold" text-anchor="middle" fill="#111" stroke="#111" stroke-width="0.15">*</text>
<path d="M259.7 866.2 V803.2 H275.4 V810.7" stroke="#111" stroke-width="1.3" fill="none"/>
<text x="267.90" y="800.80" font-size="10" font-weight="bold" text-anchor="middle" fill="#111" stroke="#111" stroke-width="0.15">*</text>
<rect x="266.40" y="686.60" width="5.00" height="4.60" fill="#fff" stroke="#111" stroke-width="1.1"/>
<rect x="266.00" y="700.00" width="5.80" height="5.40" fill="#000" stroke="none" stroke-width="1"/>
<rect x="266.40" y="713.50" width="5.00" height="4.60" fill="url(#dots)" stroke="#111" stroke-width="1.1"/>
<text x="273.20" y="692.40" font-size="8.8" font-weight="normal" text-anchor="start" fill="#111" stroke="#111" stroke-width="0.45" textLength="29.30" lengthAdjust="spacingAndGlyphs">Control</text>
<text x="273.20" y="705.40" font-size="8.8" font-weight="normal" text-anchor="start" fill="#111" stroke="#111" stroke-width="0.45" textLength="13.00" lengthAdjust="spacingAndGlyphs">&#8722;/&#8722;</text>
<text x="273.20" y="719.10" font-size="8.8" font-weight="normal" text-anchor="start" fill="#111" stroke="#111" stroke-width="0.45" textLength="13.00" lengthAdjust="spacingAndGlyphs">+/&#8722;</text>
<text x="354.60" y="617.00" font-size="14" font-weight="bold" text-anchor="start" fill="#111" stroke="#111" stroke-width="0.15" textLength="9.20" lengthAdjust="spacingAndGlyphs">ii</text>
<text x="392.50" y="614.00" font-size="9.8" font-weight="normal" text-anchor="start" fill="#111" stroke="#111" stroke-width="0.45" textLength="56.60" lengthAdjust="spacingAndGlyphs">3rd replating</text>
<rect x="364.30" y="623.30" width="112.00" height="110.60" fill="#a1a3bc" stroke="none" stroke-width="1"/>
<path d="M421.3 637.3h0M415.5 652.9h0M412.7 657.4h0M371.8 666.0h0M386.7 681.6h0M398.2 674.7h0M405.8 710.0h0M435.2 710.7h0M451.5 723.8h0M473.0 701.0h0M400.6 730.8h0M456.0 650.0h0M440.0 700.0h0M415.5 716.7h0M411.2 711.8h0M407.2 713.6h0M407.4 710.3h0M411.7 713.8h0M412.9 711.5h0M411.0 713.4h0M405.7 714.7h0M412.1 718.8h0M411.7 713.2h0M415.3 713.9h0M414.2 712.7h0" stroke="#c4c8dc" stroke-width="3.0" stroke-linecap="round" stroke-opacity="0.3" fill="none"/>
<path d="M421.3 637.3h0M415.5 652.9h0M412.7 657.4h0M371.8 666.0h0M386.7 681.6h0M398.2 674.7h0M405.8 710.0h0M435.2 710.7h0M451.5 723.8h0M473.0 701.0h0M400.6 730.8h0M456.0 650.0h0M440.0 700.0h0M415.5 716.7h0M411.2 711.8h0M407.2 713.6h0M407.4 710.3h0M411.7 713.8h0M412.9 711.5h0M411.0 713.4h0M405.7 714.7h0M412.1 718.8h0M411.7 713.2h0M415.3 713.9h0M414.2 712.7h0" stroke="#eceef6" stroke-width="1.5" stroke-linecap="round" stroke-opacity="0.75" fill="none"/>
<rect x="364.30" y="623.30" width="112.00" height="110.60" fill="none" stroke="#111" stroke-width="1.8"/>
<text x="368.60" y="633.20" font-size="8.6" font-weight="bold" text-anchor="start" fill="#111" stroke="#111" stroke-width="0.35" textLength="29.20" lengthAdjust="spacingAndGlyphs">Control</text>
<rect x="365.00" y="737.00" width="111.50" height="110.80" fill="#7a7ba0" stroke="none" stroke-width="1"/>
<path d="M450.5 767.8h0M433.1 775.1h0M437.0 761.2h0M425.8 767.0h0M419.8 766.2h0M424.9 771.2h0M421.3 777.6h0M424.6 745.0h0M440.2 770.3h0M422.8 776.2h0M431.6 774.3h0M421.8 775.5h0M415.7 786.8h0M418.1 771.9h0M429.7 775.8h0M427.3 778.1h0M396.8 771.7h0M426.9 768.7h0M442.1 763.8h0M427.6 754.3h0M430.8 758.0h0M414.1 793.9h0M434.7 772.5h0M429.9 759.5h0M418.8 776.5h0M409.1 775.1h0M412.5 773.7h0M418.2 788.6h0M437.6 767.9h0M411.1 765.4h0M427.8 763.5h0M430.9 781.6h0M427.8 768.6h0M435.5 769.9h0M436.1 769.7h0M443.1 770.1h0M418.6 773.5h0M422.5 764.0h0M427.2 779.5h0M408.6 772.2h0M427.0 771.3h0M435.7 760.7h0M434.4 770.6h0M429.4 770.7h0M425.4 767.9h0M432.2 792.0h0M438.1 780.6h0M433.6 768.4h0M434.1 791.8h0M416.8 780.5h0M437.9 775.5h0M435.8 785.7h0M448.9 784.9h0M443.9 776.1h0M436.4 774.7h0M431.5 768.9h0M435.1 786.4h0M427.5 775.6h0M434.6 773.5h0M437.6 775.7h0M432.7 810.1h0M420.4 808.2h0M428.5 799.5h0M454.4 802.4h0M431.1 806.4h0M445.1 801.1h0M438.7 794.5h0M427.2 798.2h0M415.6 790.7h0M412.1 799.6h0M429.5 799.1h0M432.4 792.0h0M430.6 803.0h0M440.6 795.4h0M426.8 787.2h0M425.6 785.9h0M414.6 809.0h0M405.2 806.9h0M435.5 799.1h0M437.1 805.0h0M444.1 799.7h0M424.5 797.1h0M419.8 801.0h0M422.2 808.8h0M409.2 793.6h0M420.2 786.6h0M454.4 784.4h0M428.2 797.6h0M451.5 787.4h0M444.5 796.2h0M429.7 796.6h0M439.3 793.3h0M430.7 803.8h0M453.7 784.5h0M449.9 807.9h0M425.8 803.4h0M426.0 812.8h0M434.1 799.8h0M428.9 799.9h0M429.5 795.1h0M456.3 787.9h0M388.3 800.4h0M429.8 803.9h0M429.1 800.3h0M435.6 808.1h0M426.2 798.7h0M454.9 805.0h0M419.8 817.6h0M440.9 797.2h0M417.5 803.4h0M421.6 793.9h0M416.0 797.8h0M444.9 798.3h0M414.2 806.0h0M432.4 807.2h0M446.0 800.1h0M429.9 801.0h0M418.0 806.0h0M448.1 802.5h0M428.8 799.5h0M422.2 795.7h0M426.8 795.4h0M426.4 790.3h0M435.8 801.6h0M417.8 785.2h0M397.9 780.5h0M395.9 780.2h0M401.4 780.3h0M403.9 776.4h0M398.0 777.0h0M394.6 778.5h0M398.6 780.4h0M399.7 785.8h0M401.2 774.3h0M398.5 777.2h0M392.9 800.1h0M402.1 796.6h0M398.1 796.7h0M404.3 804.1h0M405.6 802.0h0M400.8 802.6h0M395.1 803.9h0M392.5 802.4h0M402.3 803.7h0M396.7 810.1h0M399.7 817.1h0M394.6 822.7h0M403.6 822.5h0M391.1 823.4h0M392.9 826.2h0M396.7 827.8h0M397.2 819.4h0M391.8 821.4h0M399.5 826.1h0M398.8 820.3h0M402.3 766.2h0M437.0 758.8h0M424.8 786.4h0M374.1 799.7h0M372.0 792.8h0M375.4 760.5h0M413.0 829.7h0M381.1 773.0h0M434.5 841.1h0M429.2 789.3h0M471.5 756.4h0M459.0 779.2h0M383.3 763.1h0M400.7 828.7h0M387.2 806.7h0M435.7 787.0h0M426.1 757.9h0M374.3 771.4h0M440.1 792.2h0M401.3 807.0h0M416.0 780.2h0M452.2 817.7h0M393.9 806.0h0M423.7 834.3h0M445.3 779.1h0M471.9 763.1h0M412.3 823.2h0M384.1 798.0h0M372.2 814.8h0M449.0 805.9h0M460.8 781.5h0M441.7 807.9h0M429.5 794.9h0M457.0 840.8h0M418.3 814.4h0M374.4 817.9h0M436.6 845.4h0M455.1 778.8h0M408.9 814.9h0M370.4 795.4h0M385.8 763.0h0M374.2 824.2h0M381.7 775.3h0M409.4 833.9h0M376.5 794.2h0M455.0 815.3h0M460.8 801.1h0M457.2 793.8h0M457.5 790.0h0M446.4 781.4h0M443.1 793.4h0M457.4 807.6h0M456.9 793.9h0M458.3 791.0h0M437.6 801.8h0M449.1 793.4h0M450.7 820.9h0M462.3 795.4h0M443.6 800.3h0M445.5 803.0h0" stroke="#c4c8dc" stroke-width="3.0" stroke-linecap="round" stroke-opacity="0.3" fill="none"/>
<path d="M450.5 767.8h0M433.1 775.1h0M437.0 761.2h0M425.8 767.0h0M419.8 766.2h0M424.9 771.2h0M421.3 777.6h0M424.6 745.0h0M440.2 770.3h0M422.8 776.2h0M431.6 774.3h0M421.8 775.5h0M415.7 786.8h0M418.1 771.9h0M429.7 775.8h0M427.3 778.1h0M396.8 771.7h0M426.9 768.7h0M442.1 763.8h0M427.6 754.3h0M430.8 758.0h0M414.1 793.9h0M434.7 772.5h0M429.9 759.5h0M418.8 776.5h0M409.1 775.1h0M412.5 773.7h0M418.2 788.6h0M437.6 767.9h0M411.1 765.4h0M427.8 763.5h0M430.9 781.6h0M427.8 768.6h0M435.5 769.9h0M436.1 769.7h0M443.1 770.1h0M418.6 773.5h0M422.5 764.0h0M427.2 779.5h0M408.6 772.2h0M427.0 771.3h0M435.7 760.7h0M434.4 770.6h0M429.4 770.7h0M425.4 767.9h0M432.2 792.0h0M438.1 780.6h0M433.6 768.4h0M434.1 791.8h0M416.8 780.5h0M437.9 775.5h0M435.8 785.7h0M448.9 784.9h0M443.9 776.1h0M436.4 774.7h0M431.5 768.9h0M435.1 786.4h0M427.5 775.6h0M434.6 773.5h0M437.6 775.7h0M432.7 810.1h0M420.4 808.2h0M428.5 799.5h0M454.4 802.4h0M431.1 806.4h0M445.1 801.1h0M438.7 794.5h0M427.2 798.2h0M415.6 790.7h0M412.1 799.6h0M429.5 799.1h0M432.4 792.0h0M430.6 803.0h0M440.6 795.4h0M426.8 787.2h0M425.6 785.9h0M414.6 809.0h0M405.2 806.9h0M435.5 799.1h0M437.1 805.0h0M444.1 799.7h0M424.5 797.1h0M419.8 801.0h0M422.2 808.8h0M409.2 793.6h0M420.2 786.6h0M454.4 784.4h0M428.2 797.6h0M451.5 787.4h0M444.5 796.2h0M429.7 796.6h0M439.3 793.3h0M430.7 803.8h0M453.7 784.5h0M449.9 807.9h0M425.8 803.4h0M426.0 812.8h0M434.1 799.8h0M428.9 799.9h0M429.5 795.1h0M456.3 787.9h0M388.3 800.4h0M429.8 803.9h0M429.1 800.3h0M435.6 808.1h0M426.2 798.7h0M454.9 805.0h0M419.8 817.6h0M440.9 797.2h0M417.5 803.4h0M421.6 793.9h0M416.0 797.8h0M444.9 798.3h0M414.2 806.0h0M432.4 807.2h0M446.0 800.1h0M429.9 801.0h0M418.0 806.0h0M448.1 802.5h0M428.8 799.5h0M422.2 795.7h0M426.8 795.4h0M426.4 790.3h0M435.8 801.6h0M417.8 785.2h0M397.9 780.5h0M395.9 780.2h0M401.4 780.3h0M403.9 776.4h0M398.0 777.0h0M394.6 778.5h0M398.6 780.4h0M399.7 785.8h0M401.2 774.3h0M398.5 777.2h0M392.9 800.1h0M402.1 796.6h0M398.1 796.7h0M404.3 804.1h0M405.6 802.0h0M400.8 802.6h0M395.1 803.9h0M392.5 802.4h0M402.3 803.7h0M396.7 810.1h0M399.7 817.1h0M394.6 822.7h0M403.6 822.5h0M391.1 823.4h0M392.9 826.2h0M396.7 827.8h0M397.2 819.4h0M391.8 821.4h0M399.5 826.1h0M398.8 820.3h0M402.3 766.2h0M437.0 758.8h0M424.8 786.4h0M374.1 799.7h0M372.0 792.8h0M375.4 760.5h0M413.0 829.7h0M381.1 773.0h0M434.5 841.1h0M429.2 789.3h0M471.5 756.4h0M459.0 779.2h0M383.3 763.1h0M400.7 828.7h0M387.2 806.7h0M435.7 787.0h0M426.1 757.9h0M374.3 771.4h0M440.1 792.2h0M401.3 807.0h0M416.0 780.2h0M452.2 817.7h0M393.9 806.0h0M423.7 834.3h0M445.3 779.1h0M471.9 763.1h0M412.3 823.2h0M384.1 798.0h0M372.2 814.8h0M449.0 805.9h0M460.8 781.5h0M441.7 807.9h0M429.5 794.9h0M457.0 840.8h0M418.3 814.4h0M374.4 817.9h0M436.6 845.4h0M455.1 778.8h0M408.9 814.9h0M370.4 795.4h0M385.8 763.0h0M374.2 824.2h0M381.7 775.3h0M409.4 833.9h0M376.5 794.2h0M455.0 815.3h0M460.8 801.1h0M457.2 793.8h0M457.5 790.0h0M446.4 781.4h0M443.1 793.4h0M457.4 807.6h0M456.9 793.9h0M458.3 791.0h0M437.6 801.8h0M449.1 793.4h0M450.7 820.9h0M462.3 795.4h0M443.6 800.3h0M445.5 803.0h0" stroke="#eceef6" stroke-width="1.5" stroke-linecap="round" stroke-opacity="0.75" fill="none"/>
<rect x="365.00" y="737.00" width="111.50" height="110.80" fill="none" stroke="#111" stroke-width="1.8"/>
<text x="369.30" y="746.90" font-size="8.6" font-weight="bold" text-anchor="start" fill="#111" stroke="#111" stroke-width="0.35">(&#8722;/&#8722;)</text>
<rect x="365.00" y="851.20" width="111.50" height="110.30" fill="#8589ac" stroke="none" stroke-width="1"/>
<circle cx="431.6" cy="884.7" r="6" fill="none" stroke="#b0b4d0" stroke-width="0.9" stroke-opacity="0.3"/>
<circle cx="444.3" cy="895.3" r="5" fill="none" stroke="#b0b4d0" stroke-width="0.9" stroke-opacity="0.3"/>
<circle cx="452.7" cy="940.8" r="5" fill="none" stroke="#b0b4d0" stroke-width="0.9" stroke-opacity="0.3"/>
<circle cx="450.6" cy="914.3" r="2" fill="none" stroke="#50557a" stroke-width="0.9" stroke-opacity="0.3"/>
<circle cx="412.5" cy="889.0" r="2" fill="none" stroke="#50557a" stroke-width="0.9" stroke-opacity="0.3"/>
<path d="M381.9 874.2h0M394.6 879.4h0M368.0 902.0h0M394.6 904.8h0M458.0 902.7h0M458.0 891.0h0M384.6 939.3h0M389.7 929.2h0M440.0 870.0h0M470.0 880.0h0M419.3 906.2h0M424.5 910.4h0M424.2 905.7h0M422.3 904.7h0M418.5 904.0h0M423.7 906.3h0M420.8 902.1h0M421.3 903.7h0M421.6 907.0h0M416.3 905.2h0M418.2 902.5h0M418.7 909.0h0M423.0 907.1h0M419.8 900.9h0M420.6 906.1h0M421.3 907.7h0" stroke="#c4c8dc" stroke-width="3.0" stroke-linecap="round" stroke-opacity="0.3" fill="none"/>
<path d="M381.9 874.2h0M394.6 879.4h0M368.0 902.0h0M394.6 904.8h0M458.0 902.7h0M458.0 891.0h0M384.6 939.3h0M389.7 929.2h0M440.0 870.0h0M470.0 880.0h0M419.3 906.2h0M424.5 910.4h0M424.2 905.7h0M422.3 904.7h0M418.5 904.0h0M423.7 906.3h0M420.8 902.1h0M421.3 903.7h0M421.6 907.0h0M416.3 905.2h0M418.2 902.5h0M418.7 909.0h0M423.0 907.1h0M419.8 900.9h0M420.6 906.1h0M421.3 907.7h0" stroke="#eceef6" stroke-width="1.5" stroke-linecap="round" stroke-opacity="0.75" fill="none"/>
<rect x="365.00" y="851.20" width="111.50" height="110.30" fill="none" stroke="#111" stroke-width="1.8"/>
<text x="369.30" y="861.10" font-size="8.6" font-weight="bold" text-anchor="start" fill="#111" stroke="#111" stroke-width="0.35">(+/&#8722;)</text>
<rect x="410.70" y="954.40" width="59.20" height="4.20" fill="#000" stroke="none" stroke-width="1"/>
<text x="439.80" y="952.60" font-size="8.6" font-weight="normal" text-anchor="middle" fill="#111" stroke="#111" stroke-width="0.45" textLength="27.80" lengthAdjust="spacingAndGlyphs">100&#181;m</text>
</svg>
</body></html>
